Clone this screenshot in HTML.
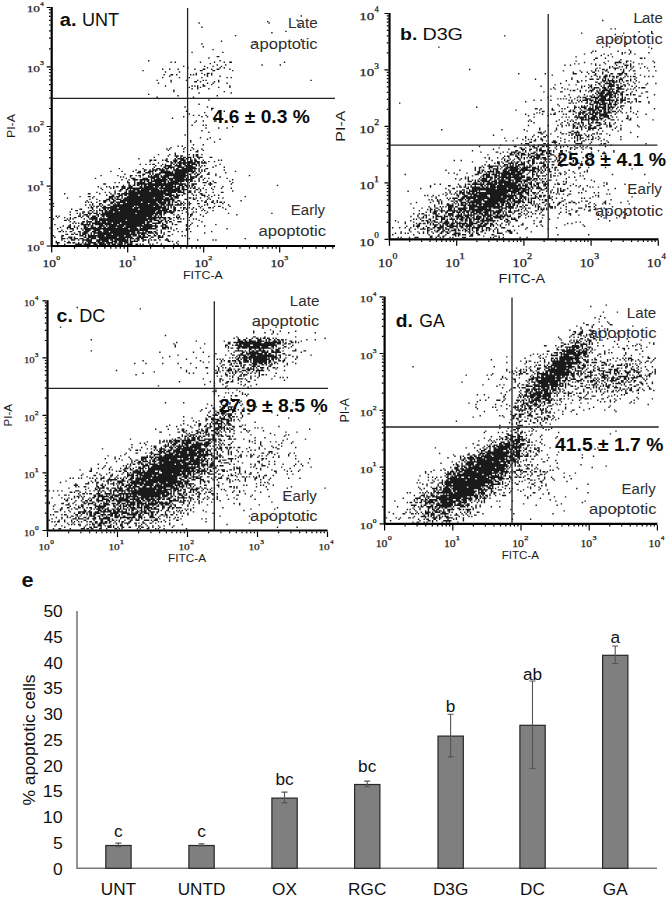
<!DOCTYPE html>
<html><head><meta charset="utf-8"><style>
html,body{margin:0;padding:0;background:#fff;}
body{width:670px;height:900px;overflow:hidden;}
svg{display:block;font-family:"Liberation Sans", sans-serif;}
</style></head><body>
<svg width="670" height="900" viewBox="0 0 670 900">
<path transform="translate(52.80 8.30) scale(1.4)" d="M3 168.5h1m4 0h1m7 0h5m1 0h5m2 0h3m1 0h5m1 0h2m1 0h3m1 0h4m1 0h1m1 0h4m2 0h2m1 0h1m1 0h1m4 0h1m1 0h1m5 0h1m8 0h1m2 0h1M2 167.5h3m5 0h3m1 0h2m2 0h1m2 0h1m1 0h1m1 0h6m1 0h5m1 0h5m1 0h2m1 0h3m1 0h3m1 0h2m11 0h1m5 0h1m13 0h1M2 166.5h1m5 0h1m2 0h1m9 0h1m2 0h4m3 0h3m1 0h5m2 0h4m1 0h7m1 0h6m3 0h1m3 0h1m13 0h2m1 0h1m3 0h1M6 165.5h1m6 0h3m2 0h1m2 0h7m3 0h9m1 0h2m1 0h10m1 0h1m2 0h1m1 0h2m2 0h3m1 0h1m1 0h1m1 0h2m2 0h1m3 0h3m20 0h1m10 0h1m1 0h1M6 164.5h3m1 0h1m1 0h2m1 0h3m1 0h3m2 0h2m1 0h4m2 0h19m1 0h1m1 0h3m1 0h3m1 0h2m4 0h1m5 0h1m5 0h1m15 0h1m39 0h1M1 163.5h1m4 0h1m4 0h3m1 0h1m6 0h2m1 0h6m1 0h14m1 0h10m3 0h8m2 0h2m3 0h4M0 162.5h1m5 0h2m11 0h3m1 0h1m1 0h12m1 0h13m1 0h4m1 0h3m1 0h2m1 0h2m2 0h2m2 0h2m1 0h2m1 0h1m3 0h2m8 0h1m1 0h1M9 161.5h2m2 0h2m1 0h2m1 0h1m1 0h3m1 0h1m1 0h1m1 0h1m2 0h10m1 0h17m1 0h1m1 0h3m1 0h1m4 0h1m1 0h1m4 0h1m5 0h1M15 160.5h1m3 0h1m1 0h4m2 0h1m1 0h26m1 0h3m1 0h7m1 0h4m1 0h2m2 0h1m1 0h1m28 0h1M4 159.5h2m1 0h1m1 0h1m2 0h2m4 0h2m2 0h4m2 0h3m1 0h3m1 0h4m1 0h18m1 0h2m2 0h1m1 0h5m1 0h2m3 0h1m4 0h2m5 0h1m2 0h1m5 0h1m14 0h1M6 158.5h1m7 0h1m6 0h1m1 0h4m2 0h5m2 0h32m6 0h1m2 0h1m8 0h1m8 0h1M3 157.5h1m6 0h1m1 0h3m2 0h1m2 0h1m1 0h32m1 0h6m1 0h12m4 0h3m1 0h1m1 0h1m3 0h1m6 0h1m1 0h1m26 0h1M5 156.5h1m4 0h3m2 0h1m1 0h1m4 0h3m2 0h4m1 0h3m1 0h2m1 0h6m1 0h4m1 0h9m2 0h1m1 0h7m2 0h2m3 0h5m1 0h1M7 155.5h1m3 0h2m2 0h1m2 0h1m3 0h2m1 0h1m1 0h2m4 0h4m1 0h1m1 0h11m1 0h23m2 0h2m1 0h2m13 0h1m1 0h1m5 0h1m4 0h1M1 154.5h1m10 0h1m7 0h7m1 0h1m1 0h6m1 0h9m1 0h17m1 0h6m2 0h1m4 0h3m4 0h1m1 0h2m6 0h1m2 0h1m17 0h1M14 153.5h1m1 0h1m1 0h1m1 0h2m2 0h1m1 0h1m1 0h14m1 0h5m1 0h17m1 0h2m2 0h6m1 0h1m2 0h1m3 0h1m13 0h1M12 152.5h1m2 0h1m5 0h2m1 0h4m2 0h4m1 0h3m1 0h27m1 0h4m4 0h3m2 0h2m1 0h2m4 0h3m14 0h1M8 151.5h2m1 0h1m12 0h1m3 0h1m1 0h2m1 0h19m1 0h15m1 0h2m1 0h4m1 0h2m1 0h1m1 0h1m3 0h1m10 0h1m6 0h1M0 150.5h1m9 0h1m1 0h1m1 0h1m7 0h1m3 0h6m1 0h41m2 0h1m2 0h2m2 0h2m4 0h1m1 0h1m1 0h1m6 0h1m1 0h1M3 149.5h1m4 0h1m3 0h1m2 0h2m3 0h1m4 0h1m1 0h5m2 0h1m1 0h1m2 0h28m1 0h13m1 0h2m2 0h1m1 0h3m6 0h1M2 148.5h1m1 0h1m13 0h2m1 0h1m2 0h2m2 0h3m1 0h1m2 0h2m1 0h33m1 0h2m1 0h1m1 0h1m10 0h1m1 0h1m7 0h1m8 0h1M12 147.5h1m6 0h1m2 0h3m1 0h1m4 0h2m1 0h38m1 0h2m1 0h2m1 0h1m6 0h1m2 0h1m6 0h1m1 0h2m5 0h1m25 0h1M17 146.5h1m1 0h1m1 0h1m3 0h3m1 0h3m1 0h1m1 0h24m1 0h18m1 0h2m3 0h2m6 0h1m3 0h1m2 0h1m9 0h1m15 0h1m30 0h1M12 145.5h1m8 0h2m2 0h1m2 0h1m2 0h1m3 0h1m1 0h6m1 0h29m1 0h4m1 0h8m8 0h1m4 0h1m1 0h1m7 0h1M16 144.5h2m8 0h2m1 0h1m1 0h1m1 0h3m1 0h2m1 0h7m1 0h26m1 0h7m1 0h2m1 0h2m1 0h2m1 0h1m13 0h1m1 0h1m5 0h1M13 143.5h1m5 0h2m7 0h1m4 0h1m2 0h2m1 0h1m1 0h20m1 0h15m1 0h5m3 0h2m5 0h1m1 0h1m3 0h1m2 0h1m4 0h1m15 0h1M25 142.5h1m1 0h2m2 0h1m3 0h11m1 0h10m1 0h23m1 0h1m1 0h1m1 0h2m3 0h1m1 0h2m2 0h1m2 0h1m4 0h1m5 0h2m1 0h1m6 0h1M0 141.5h1m26 0h1m1 0h1m1 0h2m1 0h1m1 0h2m3 0h17m1 0h1m1 0h11m1 0h5m1 0h2m1 0h1m1 0h1m1 0h1m17 0h1m1 0h1m8 0h1m2 0h2m6 0h1M23 140.5h1m2 0h1m1 0h1m4 0h1m1 0h1m3 0h2m2 0h33m1 0h3m1 0h5m1 0h5m1 0h1m3 0h1m10 0h1m1 0h1m14 0h1M0 139.5h1m27 0h1m4 0h2m6 0h2m1 0h1m1 0h2m2 0h18m1 0h6m1 0h5m1 0h2m1 0h1m3 0h1m1 0h2m1 0h1m2 0h2m4 0h2m5 0h1m4 0h1m5 0h1M23 138.5h1m1 0h1m1 0h1m3 0h1m4 0h2m3 0h3m1 0h7m1 0h10m1 0h10m1 0h6m1 0h2m1 0h1m1 0h2m2 0h1m1 0h1m3 0h1m10 0h2m3 0h2m2 0h1m1 0h2m1 0h1M24 137.5h1m8 0h1m2 0h3m1 0h1m2 0h2m3 0h30m1 0h5m1 0h2m2 0h2m12 0h1m2 0h1m2 0h1m4 0h1m2 0h1m16 0h1M26 136.5h1m4 0h1m6 0h3m1 0h2m1 0h4m1 0h37m7 0h2m4 0h2m8 0h1m1 0h1M10 135.5h1m17 0h1m11 0h3m1 0h1m1 0h1m2 0h1m1 0h21m1 0h6m1 0h3m1 0h2m1 0h3m7 0h2m1 0h1m1 0h1m2 0h1m5 0h1m6 0h1m2 0h1M19 134.5h1m5 0h2m2 0h1m10 0h4m1 0h3m1 0h1m3 0h27m3 0h2m1 0h4m18 0h1m1 0h1m2 0h1m23 0h1M38 133.5h1m3 0h2m3 0h3m1 0h2m1 0h7m1 0h17m1 0h7m1 0h3m1 0h1m7 0h1m1 0h1m3 0h3m2 0h1m3 0h1m2 0h1M8 132.5h1m16 0h2m6 0h1m7 0h1m2 0h1m1 0h2m1 0h36m3 0h1m4 0h2m4 0h1m5 0h2M31 131.5h1m5 0h1m2 0h1m3 0h1m6 0h2m1 0h27m1 0h6m1 0h5m2 0h3m2 0h1m2 0h1m4 0h1m4 0h1m5 0h2M44 130.5h1m2 0h2m3 0h1m1 0h5m1 0h9m1 0h22m1 0h1m3 0h2m2 0h1m3 0h1m22 0h1M35 129.5h1m12 0h2m2 0h2m1 0h1m1 0h5m1 0h13m1 0h1m1 0h12m1 0h4m6 0h2m1 0h1m3 0h1m4 0h1M34 128.5h1m6 0h1m1 0h1m5 0h3m1 0h22m1 0h10m1 0h4m1 0h2m2 0h1m1 0h1m1 0h2m2 0h1m2 0h1m5 0h1m6 0h1m6 0h1M32 127.5h1m5 0h1m1 0h1m2 0h1m1 0h2m2 0h3m2 0h3m5 0h2m1 0h7m1 0h3m1 0h2m1 0h8m1 0h2m1 0h2m1 0h1m1 0h1m1 0h1m1 0h1m13 0h1m5 0h1M50 126.5h1m3 0h2m1 0h2m1 0h2m1 0h1m1 0h2m1 0h18m1 0h1m2 0h3m1 0h2m1 0h1m1 0h2m7 0h1m3 0h1m47 0h1M36 125.5h2m16 0h1m3 0h1m1 0h35m1 0h1m2 0h4m8 0h3m13 0h1M44 124.5h1m2 0h1m5 0h2m3 0h1m1 0h6m2 0h3m2 0h5m1 0h2m1 0h8m1 0h1m5 0h1m9 0h3m2 0h1m2 0h2m11 0h1M53 123.5h1m4 0h1m3 0h2m1 0h1m1 0h2m1 0h11m1 0h1m1 0h10m1 0h2m1 0h2m1 0h1m2 0h1m5 0h1m3 0h1m11 0h1M49 122.5h1m4 0h1m2 0h4m1 0h7m1 0h1m1 0h10m1 0h3m1 0h13m4 0h1m2 0h1m20 0h1M30 121.5h1m21 0h1m3 0h3m5 0h4m2 0h3m1 0h3m1 0h3m1 0h12m1 0h2m1 0h3m3 0h1m3 0h1m2 0h1m12 0h1M48 120.5h1m1 0h1m4 0h1m6 0h1m5 0h8m1 0h6m3 0h9m1 0h1m1 0h5m2 0h2m12 0h1M34 119.5h1m11 0h1m8 0h2m2 0h1m1 0h2m1 0h1m3 0h1m1 0h1m1 0h4m1 0h1m1 0h18m1 0h1m3 0h2m2 0h1m9 0h1m23 0h1M51 118.5h1m12 0h2m3 0h1m1 0h1m1 0h4m3 0h15m2 0h2m2 0h1m1 0h2m5 0h2m4 0h1M60 117.5h3m3 0h4m1 0h1m4 0h10m1 0h10m2 0h2m1 0h1m2 0h1m5 0h1m11 0h1M41 116.5h1m7 0h1m7 0h1m3 0h2m2 0h1m2 0h4m1 0h1m3 0h7m1 0h1m1 0h15m2 0h1m1 0h1m1 0h1m21 0h1M59 115.5h1m5 0h2m2 0h1m1 0h4m1 0h4m1 0h1m4 0h14m1 0h1m2 0h1m1 0h1m1 0h1m13 0h1M47 114.5h1m16 0h1m6 0h1m2 0h3m1 0h1m1 0h3m1 0h1m1 0h1m1 0h2m2 0h11m1 0h1m4 0h2M72 113.5h1m6 0h2m1 0h5m2 0h5m1 0h7m3 0h1m8 0h1m7 0h1M73 112.5h1m3 0h1m2 0h5m2 0h5m2 0h6m2 0h1m1 0h1m1 0h1m1 0h1m7 0h1M62 111.5h1m3 0h1m2 0h1m1 0h2m5 0h1m1 0h1m3 0h1m1 0h1m1 0h1m1 0h2m1 0h2m1 0h2m1 0h4m1 0h1m14 0h1M75 110.5h1m8 0h2m1 0h1m1 0h13m1 0h2m1 0h4M69 109.5h1m11 0h2m1 0h1m1 0h3m1 0h2m1 0h2m1 0h4m1 0h4m1 0h1m1 0h1m2 0h1m3 0h1M69 108.5h2m1 0h2m4 0h1m1 0h2m4 0h3m2 0h4m3 0h2m1 0h2m4 0h1m10 0h1m1 0h1M61 107.5h1m19 0h1m5 0h1m1 0h5m1 0h2m1 0h1m2 0h1m2 0h1M72 106.5h1m15 0h1m2 0h1m1 0h2m1 0h3m1 0h1m2 0h4m5 0h2M82 105.5h1m4 0h3m1 0h2m7 0h1m1 0h2M75 104.5h1m7 0h1m3 0h1m9 0h1m2 0h1m1 0h2m2 0h1M87 103.5h1M93 102.5h1m8 0h2M82 101.5h1m15 0h1m4 0h1m3 0h1M81 100.5h1m1 0h1m9 0h1m6 0h1m5 0h1M84 99.5h1m9 0h1m4 0h1M89 98.5h1m2 0h1M100 97.5h1m6 0h1M98 95.5h1m16 0h1M98 94.5h1M110 93.5h1m8 0h1M105 92.5h1m6 0h1M94 90.5h1M111 88.5h1M106 87.5h1M109 85.5h1m8 0h1m5 0h1M128 84.5h1M99 83.5h1m7 0h1m1 0h1M101 81.5h1M102 80.5h1m4 0h1m7 0h2M85 78.5h1M93 77.5h1m12 0h1m3 0h1M100 76.5h1m3 0h1m4 0h1M97 75.5h1M108 74.5h1m9 0h1M95 73.5h1m26 0h1M113 72.5h1M113 71.5h2M94 70.5h1m15 0h1M104 68.5h1M111 65.5h1M75 64.5h1M74 63.5h1m25 0h1M89 62.5h1m27 0h1M68 61.5h1M104 60.5h1m22 0h1M86 59.5h1m35 0h1M86 58.5h1M99 57.5h1m3 0h1m7 0h1M97 56.5h1m5 0h1m1 0h1m12 0h1m7 0h1M80 55.5h1m18 0h1m1 0h1m1 0h1m3 0h2m17 0h1M107 54.5h1m5 0h1M75 53.5h1m34 0h1m3 0h1m9 0h1M84 52.5h1m16 0h2m2 0h1m9 0h1m2 0h1M74 51.5h1m9 0h1m10 0h1m7 0h1m3 0h1m1 0h1m8 0h1m65 0h1M78 49.5h1m11 0h1m6 0h1m8 0h1m17 0h1m2 0h1M83 48.5h1m26 0h1m8 0h1M79 47.5h1m4 0h2m2 0h1m9 0h1m1 0h1m1 0h1m5 0h1m1 0h1m2 0h1M102 46.5h1m3 0h1m3 0h2m1 0h1M80 45.5h1m9 0h1M64 44.5h1m40 0h2m7 0h2m12 0h1M78 43.5h1m4 0h1m5 0h1m11 0h1m5 0h2m4 0h1m3 0h2m7 0h1M96 42.5h1m13 0h1m8 0h1m2 0h1M93 41.5h1m14 0h1m5 0h1m5 0h1M117 40.5h1m5 0h1m25 0h1m12 0h1M112 39.5h1M84 38.5h1m2 0h1m17 0h1m9 0h1m6 0h1m3 0h2m37 0h1M68 37.5h1m50 0h1M111 35.5h1M117 34.5h2M99 31.5h1m21 0h1M114 29.5h1M156 28.5h1M107 27.5h1M106 25.5h1M144 24.5h1M120 23.5h1M177 22.5h1M130 19.5h1M156 17.5h1M166 16.5h1M106 13.5h1M176 12.5h1M104 10.5h1m49 0h1M153 9.5h1M174 8.5h1M177 5.5h1" stroke="#1a1a1a" stroke-width="1" fill="none"/>
<path transform="translate(390.60 14.20) scale(1.4)" d="M5 159.5h1m1 0h1m5 0h1m3 0h3m8 0h2m2 0h1m2 0h1m1 0h1m4 0h1m1 0h1m6 0h3m17 0h1m1 0h1m3 0h1m2 0h1m11 0h1m4 0h1M28 158.5h2m3 0h2m2 0h2m7 0h1m1 0h1m7 0h3m7 0h1m7 0h2m1 0h1M1 157.5h1m14 0h1m10 0h1m6 0h1m4 0h1m4 0h3m1 0h2m1 0h3m3 0h2m3 0h2m8 0h2m6 0h1m38 0h1m21 0h1M3 156.5h1m3 0h1m2 0h1m1 0h1m7 0h1m2 0h1m2 0h1m3 0h1m4 0h2m3 0h2m3 0h5m6 0h1m1 0h1m2 0h2m4 0h1m8 0h4m5 0h2m3 0h1M7 155.5h1m6 0h1m4 0h1m3 0h1m2 0h1m2 0h1m2 0h2m2 0h2m1 0h2m1 0h1m3 0h1m6 0h1m1 0h2m2 0h1m1 0h1m2 0h2m7 0h1m2 0h1m5 0h1m1 0h3m13 0h1M13 154.5h1m12 0h2m3 0h1m1 0h2m2 0h2m2 0h1m1 0h4m1 0h2m1 0h1m1 0h2m1 0h1m1 0h1m2 0h2m2 0h2m1 0h1m1 0h1m2 0h1m2 0h1m6 0h3m2 0h1M13 153.5h1m3 0h1m3 0h4m1 0h1m1 0h2m4 0h2m1 0h1m1 0h3m3 0h2m1 0h1m3 0h2m1 0h2m1 0h1m2 0h2m2 0h1m2 0h1m1 0h2m2 0h1m1 0h1m19 0h1m15 0h1M1 152.5h1m4 0h1m3 0h1m3 0h1m4 0h1m3 0h1m2 0h2m2 0h2m1 0h5m1 0h1m2 0h3m2 0h1m2 0h2m2 0h1m1 0h1m1 0h6m1 0h1m2 0h3m4 0h1m3 0h3m15 0h1m20 0h1M11 151.5h1m4 0h1m1 0h3m4 0h1m5 0h2m2 0h3m2 0h8m1 0h3m1 0h5m1 0h1m2 0h6m3 0h1m1 0h1m4 0h1m8 0h1m3 0h1m12 0h1m3 0h1m29 0h1M16 150.5h1m2 0h2m7 0h1m1 0h4m1 0h1m1 0h1m1 0h2m1 0h3m2 0h1m1 0h1m1 0h2m1 0h5m3 0h3m1 0h3m2 0h3m2 0h1m1 0h1m3 0h1m1 0h1m8 0h2m12 0h1m16 0h1m12 0h1M10 149.5h1m7 0h1m1 0h2m1 0h2m1 0h1m1 0h1m1 0h1m3 0h1m2 0h5m1 0h3m1 0h8m1 0h6m2 0h2m1 0h3m1 0h2m2 0h1m3 0h1m4 0h1m9 0h1m7 0h1m23 0h1m2 0h1M5 148.5h1m4 0h1m5 0h1m9 0h2m1 0h1m1 0h3m1 0h2m1 0h4m2 0h1m1 0h2m1 0h1m3 0h1m2 0h3m2 0h3m1 0h2m2 0h1m3 0h1m8 0h2m1 0h1m20 0h2m24 0h1m2 0h1M3 147.5h1m10 0h1m7 0h2m1 0h2m1 0h1m1 0h2m4 0h1m2 0h2m3 0h1m1 0h1m3 0h2m1 0h2m1 0h2m1 0h1m2 0h1m1 0h11m1 0h1m4 0h1m1 0h2m4 0h2m11 0h1m4 0h1m48 0h1M16 146.5h1m1 0h1m2 0h1m5 0h2m3 0h2m2 0h3m1 0h1m1 0h4m1 0h1m1 0h3m1 0h2m1 0h2m1 0h5m1 0h2m1 0h5m5 0h2m2 0h2m2 0h4m23 0h1m34 0h1M20 145.5h1m1 0h2m1 0h1m4 0h1m1 0h1m3 0h3m4 0h1m3 0h2m1 0h3m1 0h3m1 0h2m1 0h4m1 0h1m1 0h2m1 0h2m1 0h5m1 0h1m5 0h1m1 0h1m2 0h1m4 0h1m7 0h1m3 0h1m10 0h1m32 0h1m8 0h1m4 0h1M14 144.5h1m4 0h1m3 0h1m1 0h1m4 0h1m1 0h5m1 0h3m1 0h1m1 0h1m1 0h6m1 0h3m1 0h1m1 0h1m1 0h4m1 0h2m1 0h3m1 0h9m1 0h3m5 0h2m5 0h1m1 0h1m49 0h1m12 0h1M19 143.5h1m4 0h2m1 0h1m4 0h2m4 0h1m2 0h4m2 0h4m1 0h8m2 0h1m2 0h8m2 0h2m1 0h2m1 0h3m1 0h1m7 0h1m2 0h1m11 0h2m18 0h1m5 0h1m13 0h1m5 0h1M16 142.5h1m3 0h1m1 0h2m6 0h3m1 0h1m4 0h1m1 0h4m3 0h1m1 0h1m1 0h1m2 0h1m1 0h1m1 0h3m1 0h3m1 0h3m1 0h1m1 0h2m1 0h2m2 0h1m1 0h1m4 0h1m3 0h2m2 0h1m1 0h1m3 0h1m1 0h1m2 0h1m13 0h1m6 0h2m19 0h1m8 0h1m10 0h1M25 141.5h1m2 0h1m1 0h3m3 0h1m2 0h2m3 0h2m1 0h3m1 0h2m1 0h2m1 0h3m1 0h4m1 0h4m1 0h1m1 0h6m1 0h1m1 0h1m1 0h3m1 0h1m4 0h1m4 0h1m1 0h1m6 0h1m13 0h1m3 0h1m6 0h1m22 0h1m10 0h1M20 140.5h1m7 0h1m2 0h3m1 0h4m1 0h8m1 0h2m1 0h5m1 0h8m1 0h7m1 0h5m1 0h1m2 0h2m2 0h4m3 0h1m1 0h1m5 0h2m3 0h1m18 0h1m4 0h2m7 0h2M26 139.5h1m1 0h2m1 0h1m2 0h1m1 0h1m4 0h3m1 0h1m2 0h6m2 0h16m5 0h3m2 0h1m2 0h1m5 0h1m1 0h1m2 0h1m8 0h1m1 0h3m1 0h1m13 0h1m3 0h1m8 0h1m3 0h1m2 0h2m6 0h1M16 138.5h1m5 0h1m5 0h1m3 0h2m2 0h1m4 0h3m1 0h1m2 0h7m1 0h4m2 0h7m1 0h2m1 0h5m1 0h4m1 0h4m1 0h1m4 0h1m1 0h1m1 0h2m5 0h1m1 0h1m1 0h1m1 0h1m2 0h2m1 0h1m3 0h1m12 0h3m9 0h1m3 0h1m1 0h1M27 137.5h1m3 0h1m3 0h1m1 0h1m1 0h1m1 0h4m1 0h2m4 0h2m2 0h24m2 0h6m2 0h1m1 0h2m1 0h1m7 0h1m1 0h2m6 0h3m1 0h1m7 0h1m13 0h1m1 0h2m2 0h1m12 0h1M31 136.5h1m8 0h5m3 0h1m1 0h4m1 0h7m1 0h2m1 0h9m1 0h2m1 0h2m1 0h1m1 0h2m1 0h2m1 0h1m3 0h1m1 0h2m3 0h1m1 0h1m1 0h1m4 0h1m2 0h1m5 0h1m3 0h1m15 0h1m6 0h1M14 135.5h1m19 0h1m1 0h1m3 0h2m2 0h1m1 0h1m1 0h1m1 0h2m1 0h2m1 0h1m1 0h2m1 0h17m1 0h2m1 0h4m1 0h2m2 0h1m8 0h1m1 0h1m1 0h1m1 0h1m4 0h1m1 0h1m5 0h2m4 0h1m6 0h1m8 0h1m3 0h1m5 0h1m1 0h1m2 0h1m13 0h1M18 134.5h1m9 0h1m5 0h1m1 0h1m8 0h1m1 0h1m2 0h4m1 0h10m2 0h10m1 0h4m1 0h2m1 0h1m1 0h5m1 0h2m2 0h3m1 0h1m5 0h2m6 0h1m3 0h2m5 0h2m1 0h2m2 0h1m7 0h1m9 0h2m10 0h1M30 133.5h1m2 0h2m1 0h1m6 0h2m1 0h2m1 0h2m3 0h2m1 0h8m1 0h18m1 0h1m1 0h8m3 0h1m1 0h1m1 0h1m7 0h2m10 0h2m5 0h1m6 0h1m2 0h2m12 0h1m15 0h1M27 132.5h1m1 0h1m3 0h1m1 0h1m5 0h1m3 0h1m2 0h4m1 0h1m1 0h2m2 0h8m2 0h13m1 0h3m1 0h2m2 0h2m1 0h1m1 0h1m1 0h1m1 0h1m5 0h1m1 0h1m1 0h2m3 0h1m8 0h1m32 0h1M32 131.5h1m7 0h1m1 0h1m1 0h4m2 0h3m1 0h7m1 0h21m1 0h4m1 0h2m1 0h2m1 0h2m1 0h1m1 0h4m1 0h1m7 0h2m3 0h1m3 0h1m13 0h1m1 0h1m3 0h1M29 130.5h1m2 0h1m15 0h1m2 0h19m1 0h8m1 0h8m1 0h1m2 0h5m6 0h2m1 0h2m1 0h1m2 0h2m1 0h1m28 0h1m3 0h1m23 0h1M24 129.5h1m1 0h1m3 0h1m3 0h1m4 0h1m7 0h2m3 0h3m2 0h1m1 0h10m2 0h19m2 0h3m3 0h1m1 0h1m2 0h1m2 0h2m1 0h2m2 0h1m12 0h1m19 0h1m1 0h1M37 128.5h1m2 0h1m2 0h1m1 0h1m1 0h1m1 0h1m1 0h2m2 0h7m1 0h20m1 0h1m1 0h1m1 0h1m1 0h4m3 0h2m3 0h1m1 0h1m13 0h1m1 0h1m2 0h1m3 0h2m25 0h1m1 0h1M39 127.5h1m2 0h1m3 0h1m2 0h4m1 0h3m1 0h2m1 0h23m2 0h4m1 0h4m1 0h3m2 0h3m1 0h1m2 0h1m5 0h1m1 0h1m2 0h1m14 0h1m1 0h1m8 0h1m2 0h1m21 0h1m3 0h1M12 126.5h1m29 0h1m4 0h1m1 0h2m1 0h1m1 0h1m1 0h6m1 0h1m4 0h24m1 0h4m1 0h1m1 0h1m5 0h1m4 0h1m2 0h1m4 0h1m1 0h3m4 0h1m10 0h1M41 125.5h1m9 0h2m3 0h1m1 0h28m1 0h6m1 0h5m1 0h1m6 0h3m2 0h1m2 0h1m3 0h1m1 0h1m1 0h2m12 0h1m17 0h1M21 124.5h1m17 0h1m4 0h2m8 0h2m2 0h17m1 0h7m1 0h13m1 0h2m1 0h1m2 0h4m2 0h2m7 0h1m1 0h1m4 0h1m10 0h1m22 0h1M28 123.5h1m18 0h1m1 0h2m1 0h2m1 0h1m1 0h7m1 0h2m1 0h2m1 0h20m1 0h2m2 0h3m1 0h2m2 0h3m4 0h1m4 0h1m17 0h1m7 0h1m1 0h1m3 0h1M28 122.5h1m12 0h2m6 0h1m3 0h1m3 0h1m2 0h1m3 0h2m1 0h1m1 0h1m1 0h4m1 0h17m1 0h4m2 0h1m1 0h2m1 0h1m3 0h2m1 0h1m15 0h1m3 0h1m2 0h1m4 0h1m11 0h1M31 121.5h1m3 0h1m12 0h1m4 0h1m1 0h2m1 0h9m1 0h8m1 0h3m1 0h9m1 0h2m1 0h1m1 0h2m1 0h2m1 0h1m1 0h2m3 0h4m4 0h1m1 0h2m2 0h2m5 0h1m23 0h1m12 0h1M59 120.5h3m2 0h1m1 0h1m2 0h4m1 0h17m2 0h1m1 0h1m2 0h3m3 0h3m1 0h1m1 0h1m1 0h1m6 0h1m5 0h1m26 0h1m1 0h1m29 0h1M55 119.5h3m2 0h1m1 0h2m1 0h6m1 0h4m1 0h9m1 0h1m1 0h5m1 0h3m2 0h1m2 0h1m4 0h2m1 0h1m11 0h1m1 0h1m19 0h1M49 118.5h1m5 0h1m2 0h1m1 0h1m1 0h1m1 0h5m1 0h2m2 0h2m1 0h5m2 0h4m1 0h4m1 0h6m1 0h2m1 0h1m2 0h1m4 0h3m3 0h1m13 0h1m10 0h1M46 117.5h1m3 0h1m2 0h1m1 0h1m7 0h1m1 0h4m2 0h2m1 0h1m1 0h2m1 0h2m1 0h4m2 0h6m3 0h4m1 0h3m1 0h1m1 0h1m1 0h1m14 0h1m12 0h1M53 116.5h1m1 0h1m8 0h1m1 0h1m1 0h5m1 0h2m1 0h19m1 0h3m1 0h1m3 0h1m8 0h1m12 0h1m3 0h1M58 115.5h1m6 0h2m1 0h3m3 0h4m1 0h4m1 0h2m1 0h5m1 0h3m5 0h1m2 0h3m1 0h3m3 0h1m1 0h2m1 0h1m15 0h1m1 0h1M10 114.5h1m36 0h1m12 0h3m3 0h5m1 0h4m1 0h1m1 0h15m3 0h1m3 0h2m1 0h1m6 0h1m2 0h1m6 0h1m2 0h1m33 0h1m22 0h1M41 113.5h1m3 0h1m8 0h1m7 0h3m3 0h1m1 0h1m2 0h1m1 0h14m1 0h5m3 0h1m2 0h1m2 0h1m2 0h2m8 0h1m2 0h2m3 0h1m5 0h1m3 0h1M62 112.5h2m1 0h1m1 0h1m1 0h5m1 0h3m2 0h5m1 0h7m1 0h2m3 0h1m1 0h3m1 0h1m1 0h1m1 0h1m3 0h2m9 0h1m5 0h1m7 0h1m1 0h1M39 111.5h1m9 0h1m10 0h1m2 0h1m1 0h2m4 0h1m1 0h1m1 0h2m3 0h3m1 0h7m1 0h11m2 0h2m1 0h1m1 0h1m1 0h2m3 0h1m1 0h1m7 0h1m12 0h1M60 110.5h1m2 0h1m6 0h1m2 0h4m1 0h1m2 0h3m1 0h7m1 0h5m3 0h5m1 0h1m2 0h1m2 0h1m3 0h1m16 0h1m37 0h1M60 109.5h1m2 0h2m1 0h1m3 0h3m3 0h1m2 0h1m2 0h9m1 0h1m1 0h6m1 0h3m1 0h1m1 0h1m1 0h1m1 0h2m2 0h1m1 0h2m15 0h2m5 0h1m11 0h1M65 108.5h1m3 0h8m1 0h1m1 0h2m1 0h1m1 0h3m1 0h3m3 0h1m1 0h1m1 0h2m4 0h1m2 0h3m1 0h1m8 0h2M67 107.5h1m2 0h1m6 0h1m3 0h3m1 0h1m1 0h1m1 0h1m1 0h5m3 0h1m1 0h1m7 0h2m1 0h1m2 0h2m3 0h2m4 0h1M74 106.5h1m1 0h2m2 0h1m3 0h4m1 0h2m2 0h3m2 0h1m2 0h2m1 0h1m1 0h4m24 0h1m6 0h1m20 0h1M58 105.5h1m9 0h1m7 0h2m1 0h1m2 0h2m2 0h1m1 0h1m1 0h2m1 0h1m1 0h1m1 0h2m2 0h2m4 0h1m1 0h1m1 0h1m1 0h1m1 0h2m2 0h1m10 0h1m5 0h1M45 104.5h1m4 0h1m21 0h1m8 0h1m1 0h2m2 0h1m4 0h1m5 0h2m1 0h2m7 0h1m6 0h1m1 0h2m3 0h1m5 0h1M70 103.5h1m8 0h1m1 0h1m3 0h1m2 0h1m2 0h2m2 0h1m5 0h2m1 0h2m1 0h1m1 0h3m1 0h2m3 0h1m1 0h1M67 102.5h1m2 0h1m5 0h1m3 0h1m3 0h1m5 0h2m1 0h1m1 0h1m1 0h1m1 0h2m1 0h5m1 0h3m7 0h1m1 0h2m15 0h1m15 0h1M81 101.5h1m1 0h2m4 0h2m2 0h1m4 0h1m1 0h3m1 0h3m5 0h2m3 0h1m21 0h1m2 0h1m7 0h1m13 0h1M69 100.5h1m15 0h3m1 0h1m1 0h1m1 0h4m1 0h2m3 0h7m4 0h3M78 99.5h1m6 0h2m1 0h1m1 0h2m1 0h3m2 0h1m1 0h3m1 0h1m2 0h2m2 0h4m5 0h1m1 0h1m6 0h1m2 0h1m18 0h3M64 98.5h1m10 0h2m3 0h1m2 0h1m2 0h4m1 0h2m3 0h1m5 0h2m4 0h2m1 0h1m1 0h1m2 0h1m4 0h2m4 0h2m7 0h1m6 0h1m8 0h1m6 0h1M58 97.5h1m30 0h2m3 0h1m1 0h1m2 0h1m4 0h1m1 0h5m1 0h3m1 0h1m4 0h2m2 0h1m22 0h1m10 0h1M73 96.5h1m10 0h1m8 0h3m3 0h2m3 0h1m1 0h2m4 0h1m5 0h1m9 0h1m2 0h1m5 0h1m5 0h1M77 95.5h1m14 0h2m2 0h1m5 0h3m2 0h1m5 0h1m3 0h1m3 0h1m6 0h2m2 0h2m2 0h1m2 0h1m2 0h2M63 94.5h1m24 0h2m9 0h1m1 0h2m2 0h1m2 0h2m1 0h2m5 0h1m2 0h1m1 0h1m2 0h1m4 0h1m3 0h1m1 0h1m2 0h1m12 0h1M78 93.5h1m16 0h1m2 0h1m3 0h1m2 0h4m2 0h4m3 0h1m6 0h1m23 0h1m7 0h1M93 92.5h1m2 0h3m10 0h2m1 0h1m4 0h1m2 0h1m11 0h5m5 0h1m7 0h1m1 0h2m28 0h1M99 91.5h2m14 0h4m5 0h1m6 0h1m4 0h1m6 0h1m11 0h1M82 90.5h1m4 0h1m8 0h1m5 0h2m4 0h1m2 0h1m4 0h2m3 0h1m5 0h1m3 0h1m1 0h1m3 0h2m11 0h1m3 0h1M94 89.5h1m3 0h1m1 0h1m2 0h1m3 0h2m15 0h1m8 0h1m1 0h1m3 0h1m1 0h1m1 0h2m3 0h1m3 0h1m11 0h1M81 88.5h1m8 0h1m5 0h1m10 0h1m13 0h1m7 0h1m1 0h1m1 0h1m1 0h3m6 0h1m1 0h1m2 0h1M96 87.5h1m4 0h1m3 0h1m3 0h2m1 0h1m6 0h1m11 0h1m1 0h1m1 0h1m4 0h2m2 0h1m3 0h1m15 0h1m11 0h1M73 86.5h1m28 0h1m8 0h1m15 0h1m1 0h1m2 0h5m2 0h1m1 0h1m1 0h1m12 0h1M107 85.5h2m5 0h1m7 0h2m1 0h1m3 0h2m1 0h1m1 0h1m3 0h1m5 0h2m1 0h1m1 0h2m3 0h1M105 84.5h3m1 0h1m11 0h1m5 0h2m2 0h4m12 0h1m23 0h1M97 83.5h1m12 0h1m6 0h1m11 0h2m2 0h1m6 0h1m10 0h1m10 0h1M36 82.5h1m42 0h1m15 0h1m10 0h1m11 0h1m17 0h1m4 0h2m1 0h1m3 0h1m9 0h1m5 0h1M106 81.5h1m11 0h1m11 0h1m1 0h2m2 0h1m2 0h1m1 0h6m2 0h2m9 0h1m3 0h1M122 80.5h1m7 0h2m1 0h1m1 0h2m1 0h1m2 0h2m2 0h2m7 0h1m1 0h2m3 0h1m15 0h1M98 79.5h1m13 0h1m6 0h1m2 0h1m2 0h1m1 0h1m2 0h2m3 0h1m1 0h1m1 0h1m2 0h2m3 0h3m4 0h1m1 0h2m6 0h1m11 0h1M121 78.5h1m5 0h1m2 0h1m2 0h2m2 0h1m3 0h2m6 0h2m1 0h2m2 0h1m2 0h1M102 77.5h1m19 0h1m3 0h1m4 0h2m1 0h1m1 0h2m3 0h1m1 0h2m1 0h4m3 0h1m2 0h1m3 0h1M98 76.5h1m1 0h1m17 0h1m5 0h1m3 0h1m1 0h1m5 0h1m4 0h1m2 0h1m2 0h1m4 0h1m12 0h1M99 75.5h1m20 0h1m5 0h1m2 0h1m2 0h1m3 0h6m1 0h6m1 0h1m2 0h1m3 0h3m2 0h1m7 0h2m15 0h1M133 74.5h1m1 0h3m1 0h1m1 0h5m1 0h1m1 0h3m3 0h2m11 0h2m1 0h1M102 73.5h1m19 0h1m2 0h1m1 0h1m3 0h9m1 0h1m1 0h5m1 0h1m2 0h4m2 0h1m2 0h1m7 0h1m6 0h1M98 72.5h1m13 0h1m19 0h1m1 0h1m3 0h2m1 0h1m2 0h3m2 0h7m1 0h1m11 0h1M96 71.5h1m5 0h1m5 0h1m5 0h1m1 0h2m5 0h1m1 0h1m4 0h1m3 0h2m1 0h1m1 0h2m1 0h3m1 0h2m1 0h6m5 0h1m14 0h1m6 0h1M104 70.5h1m1 0h1m10 0h1m14 0h1m1 0h5m2 0h2m1 0h6m2 0h6m3 0h1m3 0h1m2 0h1m4 0h1M108 69.5h2m10 0h1m1 0h1m4 0h2m1 0h2m3 0h1m1 0h3m2 0h1m1 0h2m1 0h1m1 0h2m1 0h2m1 0h2m1 0h3m1 0h1m1 0h1m6 0h1m4 0h1M89 68.5h1m16 0h1m8 0h2m11 0h1m1 0h1m5 0h1m3 0h7m1 0h3m1 0h2m1 0h1m1 0h1m5 0h1M103 67.5h2m2 0h1m7 0h1m6 0h1m1 0h1m6 0h1m3 0h1m2 0h2m1 0h4m1 0h3m2 0h3m1 0h2m1 0h1m2 0h1m3 0h1m5 0h1m16 0h1M61 66.5h1m64 0h1m4 0h2m1 0h1m1 0h4m2 0h1m1 0h1m1 0h8m1 0h5m2 0h1m1 0h1m6 0h1M120 65.5h1m10 0h1m4 0h1m1 0h1m1 0h1m3 0h1m1 0h2m1 0h1m2 0h2m1 0h1m1 0h1m2 0h1m3 0h3M119 64.5h1m22 0h3m2 0h1m1 0h5m1 0h3m1 0h3M6 63.5h1m120 0h2m1 0h1m1 0h1m6 0h2m1 0h1m2 0h5m1 0h4m1 0h2m2 0h1m1 0h1m1 0h1m2 0h1m3 0h1m12 0h1M96 62.5h1m32 0h1m4 0h1m1 0h1m3 0h1m2 0h1m1 0h4m1 0h3m3 0h1m1 0h1m1 0h2m2 0h2m3 0h2m1 0h1m2 0h1m1 0h2m5 0h1M102 61.5h1m4 0h1m6 0h1m12 0h1m1 0h1m3 0h1m1 0h1m1 0h4m1 0h3m1 0h1m1 0h12m1 0h2m1 0h4m7 0h1M119 60.5h1m1 0h1m1 0h1m1 0h1m5 0h1m7 0h4m3 0h2m1 0h5m1 0h2m4 0h1m2 0h2m1 0h1m1 0h2m3 0h2M112 59.5h1m15 0h1m4 0h1m1 0h1m1 0h3m3 0h6m1 0h4m2 0h3m1 0h1m1 0h1m2 0h1m1 0h1m15 0h1M114 58.5h1m9 0h1m9 0h1m5 0h1m1 0h2m1 0h1m2 0h7m1 0h2m1 0h2m4 0h1m11 0h2M127 57.5h1m10 0h1m5 0h1m2 0h1m1 0h3m1 0h6m1 0h1m1 0h1m1 0h2m2 0h2m1 0h1m1 0h2m13 0h1M146 56.5h1m1 0h5m1 0h4m1 0h3m2 0h2m5 0h1m7 0h1M109 55.5h1m11 0h2m12 0h1m5 0h1m1 0h1m3 0h2m1 0h3m2 0h5m1 0h3m1 0h2m5 0h1m9 0h2M128 54.5h1m1 0h2m3 0h1m3 0h1m2 0h3m2 0h1m1 0h1m1 0h6m1 0h1m2 0h2m5 0h1m6 0h1M114 53.5h1m2 0h1m6 0h1m1 0h1m6 0h1m10 0h2m3 0h1m2 0h3m1 0h4m2 0h5m2 0h1m1 0h1m1 0h1M116 52.5h1m5 0h1m13 0h1m4 0h1m1 0h1m1 0h4m2 0h3m1 0h1m1 0h1m3 0h4m9 0h1m2 0h1m1 0h3M107 51.5h1m28 0h1m1 0h1m3 0h2m6 0h1m1 0h1m2 0h5m2 0h1m1 0h2m1 0h1m4 0h1m2 0h1M117 50.5h1m9 0h1m4 0h1m8 0h1m1 0h1m2 0h1m2 0h1m2 0h1m3 0h4m1 0h2m3 0h2m2 0h1m11 0h1M121 49.5h1m26 0h2m3 0h5m1 0h1m4 0h1m4 0h1m4 0h1m8 0h1m5 0h1M133 48.5h2m11 0h2m2 0h1m1 0h1m1 0h1m1 0h1m1 0h4m1 0h1m2 0h1m6 0h1m3 0h1M125 47.5h1m7 0h1m2 0h1m2 0h1m11 0h3m1 0h5m1 0h1m1 0h1m1 0h1m2 0h2m1 0h1m3 0h1M103 46.5h1m25 0h1m12 0h3m2 0h2m2 0h1m1 0h1m1 0h1m2 0h1m4 0h3m5 0h1m2 0h1M129 45.5h1m19 0h1m2 0h2m5 0h1m1 0h1m2 0h1m1 0h1m8 0h1M139 44.5h1m3 0h1m3 0h1m1 0h1m2 0h3m1 0h1m1 0h2m1 0h2m4 0h1m1 0h1m1 0h1m1 0h2m6 0h1m2 0h1m2 0h1M115 43.5h1m29 0h2m6 0h2m1 0h1m6 0h2m3 0h1m9 0h1M91 42.5h1m18 0h1m19 0h3m8 0h1m4 0h1m4 0h1m5 0h2m3 0h4m1 0h2m5 0h1M130 41.5h1m5 0h1m3 0h1m3 0h2m5 0h1m3 0h1m9 0h2M123 40.5h1m11 0h1m7 0h1m2 0h1m1 0h1m4 0h2m11 0h1m3 0h1m2 0h2m9 0h1m4 0h1M56 39.5h1m89 0h1m4 0h2m1 0h1m5 0h1m3 0h1m1 0h1m4 0h1M147 38.5h1m1 0h1m6 0h1m2 0h4m5 0h1m3 0h1m5 0h1m4 0h1M156 37.5h1m1 0h1m4 0h1m1 0h1m2 0h1m2 0h1m1 0h1m7 0h1m6 0h1M124 36.5h1m3 0h1m17 0h1m2 0h1m11 0h1m5 0h3m1 0h1M131 35.5h1m2 0h1m8 0h1m2 0h1m6 0h1m6 0h1m5 0h1m4 0h1m5 0h1m1 0h1M138 34.5h1m13 0h1m7 0h5m3 0h1m4 0h1m14 0h1M132 33.5h1m22 0h1m7 0h1m4 0h2m1 0h1m15 0h1M145 32.5h1m18 0h1M146 31.5h2m5 0h1m24 0h2m1 0h1M132 30.5h1m25 0h1M150 29.5h1m4 0h1M138 28.5h1m13 0h1m4 0h1m7 0h1m4 0h1m3 0h1M143 27.5h1m21 0h1m1 0h1m3 0h1m12 0h1M144 26.5h1m1 0h1m15 0h1m8 0h1M170 25.5h1M186 24.5h1M34 23.5h1m116 0h1m4 0h1m27 0h1M168 21.5h1M174 20.5h1M158 18.5h1m2 0h1M162 17.5h1M174 16.5h1M81 15.5h1m83 0h1M160 14.5h1M136 13.5h1m29 0h1m19 0h1M177 12.5h1m8 0h1M157 10.5h1m2 0h1M174 5.5h1m4 0h1M151 4.5h1" stroke="#1a1a1a" stroke-width="1" fill="none"/>
<path transform="translate(48.60 302.60) scale(1.4)" d="M3 161.5h1m3 0h2m6 0h1m7 0h3m1 0h2m1 0h2m4 0h2m3 0h1m5 0h2m1 0h1m1 0h1m10 0h1m1 0h1m4 0h2m4 0h1m1 0h1m3 0h1m15 0h1M11 160.5h1m13 0h1m3 0h2m1 0h3m2 0h1m4 0h3m1 0h1m2 0h1m2 0h2m3 0h2m5 0h1m1 0h2m3 0h1m2 0h1m4 0h1m8 0h1m74 0h1m13 0h1M4 159.5h1m4 0h1m12 0h1m3 0h1m5 0h1m2 0h3m2 0h1m1 0h3m1 0h1m4 0h2m9 0h1m1 0h2m4 0h1m3 0h1m3 0h1m3 0h1m6 0h1M5 158.5h1m8 0h1m1 0h1m1 0h1m2 0h2m4 0h1m1 0h1m1 0h2m2 0h3m1 0h1m4 0h1m3 0h1m2 0h2m3 0h1m5 0h1m3 0h1m2 0h1m16 0h1m8 0h1m31 0h1M13 157.5h1m3 0h1m13 0h1m1 0h2m1 0h6m1 0h1m2 0h1m1 0h1m3 0h1m1 0h4m3 0h2m1 0h1m2 0h2m3 0h2m2 0h1m9 0h1m56 0h1M2 156.5h1m1 0h1m1 0h2m3 0h1m4 0h1m1 0h1m2 0h1m1 0h1m3 0h1m1 0h2m2 0h2m2 0h2m1 0h2m1 0h2m2 0h1m2 0h1m1 0h2m3 0h2m8 0h1m6 0h1m3 0h1m1 0h1m2 0h1m28 0h1M0 155.5h1m6 0h1m3 0h1m4 0h1m3 0h1m4 0h2m5 0h1m4 0h2m3 0h2m1 0h2m1 0h1m1 0h1m3 0h1m3 0h2m2 0h3m3 0h4m1 0h1m1 0h3m4 0h1m3 0h1m4 0h2m87 0h1M2 154.5h1m6 0h1m7 0h3m1 0h4m2 0h2m2 0h3m2 0h8m1 0h1m5 0h1m4 0h2m1 0h1m2 0h1m1 0h1m1 0h1m9 0h2m1 0h1m9 0h1m4 0h1m14 0h1m2 0h1M5 153.5h1m3 0h1m3 0h1m1 0h1m3 0h1m1 0h1m3 0h2m1 0h1m3 0h2m2 0h1m2 0h5m3 0h3m1 0h11m2 0h3m1 0h1m3 0h4m2 0h1m5 0h1m1 0h1m3 0h1m1 0h1M13 152.5h1m2 0h2m2 0h1m1 0h1m6 0h4m2 0h2m1 0h1m2 0h1m2 0h2m1 0h4m2 0h2m5 0h2m2 0h3m5 0h3m4 0h1m2 0h1m1 0h1m10 0h1m26 0h1m20 0h1m13 0h1M1 151.5h1m1 0h1m5 0h1m1 0h2m6 0h2m2 0h1m3 0h1m1 0h2m1 0h2m3 0h4m1 0h4m1 0h2m1 0h1m1 0h1m3 0h7m1 0h2m1 0h1m3 0h1m1 0h2m1 0h1m3 0h2m1 0h2m2 0h2m2 0h1m7 0h1m85 0h1M18 150.5h1m2 0h2m1 0h2m1 0h1m1 0h2m1 0h5m2 0h1m4 0h6m2 0h6m1 0h5m1 0h2m1 0h4m1 0h2m2 0h1m5 0h1m5 0h1m4 0h1m1 0h1m2 0h1m17 0h1M4 149.5h3m4 0h1m3 0h1m5 0h6m1 0h3m2 0h3m1 0h8m1 0h10m3 0h1m2 0h3m1 0h4m2 0h4m1 0h2m4 0h1m2 0h1m2 0h1m2 0h1m1 0h1m8 0h1m8 0h1M8 148.5h1m5 0h1m10 0h2m2 0h1m5 0h3m1 0h2m1 0h3m1 0h2m1 0h2m1 0h1m2 0h1m1 0h1m1 0h2m2 0h1m1 0h2m1 0h2m1 0h2m5 0h1m1 0h1m3 0h2m5 0h1m1 0h1m1 0h1m2 0h1m2 0h1m8 0h1m28 0h1M3 147.5h1m4 0h2m6 0h1m2 0h2m4 0h1m4 0h1m1 0h1m1 0h3m1 0h1m1 0h3m2 0h2m1 0h4m1 0h3m1 0h1m1 0h4m3 0h1m1 0h1m1 0h2m1 0h6m2 0h1m3 0h1m2 0h1m8 0h1m1 0h1m1 0h1m42 0h1m16 0h1M9 146.5h1m3 0h2m3 0h1m2 0h2m1 0h1m2 0h1m1 0h2m2 0h1m1 0h5m2 0h1m4 0h1m1 0h1m1 0h1m1 0h1m2 0h1m1 0h4m1 0h4m1 0h6m1 0h2m4 0h2m2 0h2m1 0h2m1 0h4m8 0h1m20 0h1m38 0h1M3 145.5h1m11 0h1m5 0h1m1 0h2m8 0h8m5 0h2m2 0h2m1 0h3m1 0h2m1 0h1m2 0h2m1 0h1m1 0h4m2 0h1m2 0h2m2 0h2m3 0h2m2 0h1m8 0h1M4 144.5h1m7 0h3m4 0h1m3 0h2m3 0h1m3 0h2m2 0h1m2 0h5m2 0h1m1 0h2m1 0h1m1 0h1m1 0h7m1 0h2m1 0h2m1 0h8m1 0h1m1 0h2m1 0h3m1 0h1m1 0h2m4 0h1m3 0h1m3 0h1m9 0h1m22 0h1m13 0h1M0 143.5h1m8 0h2m3 0h1m2 0h1m7 0h2m1 0h4m1 0h1m3 0h1m1 0h4m2 0h3m1 0h2m1 0h3m1 0h1m1 0h4m1 0h7m1 0h7m1 0h8m1 0h1m7 0h1m3 0h1m6 0h1m24 0h1m3 0h1M0 142.5h1m17 0h1m5 0h2m1 0h1m3 0h2m2 0h1m3 0h1m1 0h1m1 0h1m5 0h3m3 0h7m1 0h4m2 0h1m1 0h1m1 0h2m1 0h6m1 0h2m1 0h2m5 0h4m3 0h1m3 0h1m2 0h1m1 0h1m6 0h1m42 0h1M12 141.5h2m5 0h1m3 0h1m2 0h2m1 0h2m3 0h5m2 0h3m1 0h2m1 0h10m2 0h1m1 0h4m1 0h2m1 0h3m1 0h3m1 0h1m7 0h7m1 0h1m1 0h2m1 0h1m1 0h1m5 0h1m14 0h1M11 140.5h1m1 0h1m2 0h1m7 0h1m3 0h1m1 0h1m3 0h2m2 0h5m1 0h1m1 0h3m1 0h7m1 0h7m1 0h2m1 0h7m1 0h3m1 0h2m1 0h3m2 0h2m1 0h1m3 0h1m4 0h1m1 0h1m2 0h1m3 0h1m2 0h1m3 0h1m2 0h1m7 0h1m5 0h1m12 0h1m21 0h1M2 139.5h1m6 0h1m4 0h1m3 0h1m2 0h1m2 0h1m4 0h1m1 0h2m2 0h1m2 0h2m3 0h4m3 0h4m1 0h3m2 0h2m1 0h9m1 0h2m1 0h1m1 0h3m1 0h1m2 0h3m4 0h7m1 0h3m4 0h1m3 0h1m2 0h1m5 0h1m11 0h1M18 138.5h1m1 0h2m1 0h1m1 0h1m6 0h2m1 0h8m1 0h2m1 0h3m1 0h1m1 0h1m1 0h9m2 0h14m1 0h4m2 0h2m1 0h1m1 0h1m2 0h2m3 0h1m5 0h2m5 0h1m6 0h1m23 0h1m12 0h1M7 137.5h1m3 0h2m1 0h1m7 0h1m9 0h2m1 0h4m2 0h1m1 0h1m1 0h7m1 0h1m1 0h2m1 0h1m1 0h3m1 0h16m1 0h5m1 0h1m1 0h1m3 0h3m1 0h2m3 0h2m3 0h1m9 0h1m9 0h1m6 0h2m9 0h1m44 0h1M21 136.5h1m2 0h2m1 0h1m1 0h2m3 0h3m3 0h5m1 0h1m3 0h33m1 0h4m1 0h1m2 0h3m1 0h1m1 0h1m6 0h1m1 0h2m2 0h1m4 0h2m2 0h1m19 0h1M15 135.5h2m1 0h1m3 0h1m3 0h1m8 0h1m1 0h1m2 0h1m3 0h1m1 0h1m2 0h1m2 0h1m1 0h1m2 0h1m1 0h27m1 0h1m1 0h1m2 0h1m3 0h2m2 0h2m1 0h1m2 0h2m4 0h1m1 0h2m15 0h1m4 0h1m14 0h1M0 134.5h1m2 0h1m2 0h1m2 0h1m9 0h3m7 0h1m2 0h1m2 0h2m1 0h2m3 0h2m1 0h9m1 0h20m1 0h8m2 0h1m1 0h2m1 0h3m2 0h1m3 0h1m1 0h1m1 0h1m3 0h1m6 0h1m9 0h1m5 0h1m3 0h1m2 0h1m7 0h1M26 133.5h1m6 0h2m1 0h1m5 0h1m1 0h1m2 0h2m1 0h3m2 0h3m1 0h1m1 0h2m1 0h17m1 0h6m1 0h4m1 0h1m1 0h2m3 0h6m3 0h1m2 0h1m1 0h1m7 0h1m1 0h1m30 0h1M14 132.5h1m13 0h1m4 0h1m1 0h5m1 0h2m2 0h3m1 0h4m3 0h6m2 0h13m1 0h6m3 0h6m2 0h1m3 0h2m1 0h1m2 0h3m1 0h1m1 0h2m3 0h1m1 0h1m13 0h1m1 0h1m35 0h1m26 0h1M19 131.5h1m1 0h1m3 0h2m7 0h2m2 0h2m9 0h1m1 0h1m2 0h2m1 0h2m1 0h5m2 0h3m2 0h2m1 0h15m1 0h1m1 0h4m1 0h1m2 0h1m1 0h1m4 0h1m12 0h1m7 0h2m1 0h1m1 0h1m13 0h1m6 0h1m17 0h1M18 130.5h3m13 0h1m2 0h2m1 0h1m5 0h1m2 0h1m2 0h2m1 0h5m1 0h2m2 0h2m1 0h7m1 0h5m1 0h7m1 0h4m1 0h2m1 0h1m1 0h2m2 0h1m6 0h2m7 0h2m17 0h1m1 0h1m9 0h1m1 0h1m6 0h1M19 129.5h1m6 0h3m5 0h1m3 0h1m3 0h1m1 0h3m1 0h1m1 0h1m1 0h2m3 0h1m1 0h16m2 0h2m1 0h11m1 0h4m1 0h7m4 0h1m15 0h1m23 0h1m8 0h1M8 128.5h1m19 0h1m2 0h1m2 0h2m6 0h1m3 0h1m2 0h4m3 0h1m1 0h10m1 0h9m1 0h5m1 0h11m1 0h3m8 0h1m2 0h1m2 0h1m6 0h1m7 0h1m21 0h1m2 0h1m1 0h1M12 127.5h1m17 0h1m2 0h1m5 0h1m1 0h2m1 0h1m4 0h6m1 0h1m2 0h6m1 0h29m1 0h5m7 0h1m1 0h2m1 0h2m14 0h1m1 0h1m4 0h1m3 0h1M33 126.5h1m3 0h1m4 0h7m3 0h2m3 0h3m2 0h8m1 0h21m2 0h3m2 0h1m2 0h3m3 0h3m6 0h1m2 0h1m6 0h1m1 0h1m3 0h1m1 0h1m4 0h1m6 0h1m3 0h1m5 0h1M15 125.5h1m1 0h1m3 0h1m1 0h1m5 0h1m1 0h1m2 0h1m2 0h3m3 0h1m3 0h1m1 0h1m1 0h1m1 0h1m1 0h1m2 0h3m1 0h11m1 0h18m1 0h2m2 0h2m1 0h2m1 0h1m1 0h4m7 0h1m1 0h1m2 0h3m3 0h2m11 0h1m6 0h2m4 0h1m4 0h1m12 0h1m7 0h1M27 124.5h1m11 0h1m4 0h1m3 0h1m5 0h1m1 0h1m2 0h2m2 0h1m1 0h1m1 0h25m3 0h5m2 0h5m1 0h2m3 0h2m3 0h2m3 0h1m10 0h1m3 0h2m1 0h1m1 0h1m2 0h1m1 0h1m1 0h1m2 0h1M23 123.5h1m8 0h2m3 0h1m6 0h2m3 0h1m6 0h5m1 0h2m1 0h9m1 0h2m1 0h17m1 0h4m1 0h1m1 0h1m3 0h1m16 0h1m3 0h1m1 0h2m1 0h1m16 0h1m3 0h2m4 0h1M24 122.5h1m11 0h1m4 0h1m3 0h1m6 0h1m3 0h2m1 0h2m2 0h4m1 0h20m1 0h9m1 0h3m1 0h2m3 0h2m1 0h1m2 0h4m3 0h2m7 0h1m4 0h1m1 0h1m5 0h2m25 0h1m3 0h1M34 121.5h1m8 0h1m9 0h1m2 0h1m1 0h1m1 0h19m2 0h13m1 0h3m1 0h3m1 0h1m1 0h3m1 0h1m1 0h1m1 0h2m4 0h1m13 0h1m2 0h1m3 0h1m3 0h1m4 0h1m12 0h1M29 120.5h2m17 0h1m1 0h2m2 0h2m4 0h6m1 0h2m1 0h6m2 0h1m1 0h25m1 0h7m2 0h2m3 0h1m3 0h2m1 0h1m8 0h1m3 0h1m20 0h2m7 0h1m2 0h1m4 0h1M22 119.5h1m7 0h1m12 0h1m1 0h1m7 0h2m3 0h2m2 0h2m1 0h1m1 0h1m3 0h24m1 0h5m1 0h2m1 0h3m1 0h3m1 0h1m1 0h1m5 0h1m1 0h3m3 0h2m1 0h1m3 0h1m14 0h1m7 0h1m8 0h1m10 0h1M30 118.5h1m4 0h1m2 0h1m4 0h1m7 0h1m2 0h3m1 0h1m1 0h1m3 0h4m1 0h1m1 0h34m2 0h2m2 0h1m1 0h1m3 0h1m1 0h1m12 0h1m1 0h3m11 0h1m2 0h1m20 0h1M39 117.5h1m4 0h1m10 0h1m1 0h1m4 0h1m1 0h2m1 0h2m2 0h1m1 0h35m2 0h1m3 0h3m1 0h2m12 0h1m1 0h1m1 0h1m7 0h1m1 0h1m9 0h1m9 0h1m20 0h1M40 116.5h1m12 0h1m1 0h1m2 0h1m8 0h5m2 0h26m2 0h1m1 0h1m1 0h2m1 0h3m1 0h1m1 0h4m1 0h1m1 0h3m22 0h1m4 0h3m20 0h1m5 0h1M35 115.5h1m20 0h1m1 0h1m1 0h2m2 0h1m1 0h2m1 0h2m1 0h6m1 0h11m1 0h4m1 0h12m1 0h5m1 0h3m11 0h1m2 0h1m11 0h1m2 0h1m4 0h1m4 0h1m3 0h1m5 0h1m8 0h1m3 0h1M41 114.5h1m17 0h1m3 0h4m4 0h2m2 0h1m2 0h3m1 0h12m1 0h7m1 0h7m3 0h1m2 0h2m5 0h1m1 0h4m9 0h1m11 0h1m34 0h1M48 113.5h1m10 0h1m1 0h1m2 0h2m1 0h4m1 0h1m1 0h3m2 0h19m2 0h8m1 0h2m1 0h2m3 0h1m3 0h2m7 0h1m4 0h1m13 0h2m6 0h1m3 0h1m16 0h1M52 112.5h1m6 0h1m2 0h2m2 0h2m1 0h1m2 0h1m1 0h2m1 0h9m1 0h13m1 0h11m1 0h1m2 0h1m5 0h1m1 0h3m3 0h1m21 0h1M40 111.5h1m6 0h1m2 0h1m7 0h1m7 0h4m3 0h1m1 0h2m1 0h14m2 0h1m1 0h8m1 0h3m1 0h1m1 0h2m1 0h1m1 0h1m1 0h3m7 0h4m1 0h1m18 0h2m1 0h1m20 0h1m9 0h1M47 110.5h1m9 0h1m8 0h5m1 0h3m1 0h24m1 0h3m2 0h3m1 0h2m5 0h1m1 0h2m1 0h1m1 0h1m10 0h1m1 0h1m6 0h1m4 0h1m10 0h1m3 0h1M42 109.5h1m8 0h1m18 0h1m1 0h1m2 0h1m3 0h2m1 0h32m2 0h2m3 0h3m9 0h1m2 0h2m3 0h1m2 0h2m4 0h1m1 0h1m2 0h1m8 0h1m6 0h1m4 0h1M54 108.5h1m18 0h1m1 0h5m3 0h6m1 0h3m1 0h12m1 0h10m3 0h1m1 0h1m5 0h1m1 0h1m6 0h1m6 0h1m1 0h1m9 0h1m4 0h1m9 0h1M55 107.5h1m6 0h2m5 0h1m2 0h3m4 0h2m1 0h2m2 0h4m1 0h8m1 0h9m1 0h1m1 0h2m2 0h1m1 0h1m1 0h1m7 0h1m1 0h1m21 0h2m3 0h1m1 0h1m3 0h1m8 0h1m2 0h1M73 106.5h1m4 0h5m1 0h3m2 0h10m1 0h5m1 0h5m1 0h2m1 0h1m4 0h1m3 0h1m3 0h1m1 0h1m4 0h1m2 0h1m3 0h1m14 0h3M58 105.5h1m3 0h2m1 0h1m9 0h1m1 0h1m1 0h2m1 0h2m1 0h3m1 0h5m1 0h11m1 0h5m1 0h3m2 0h2m3 0h1m4 0h1m5 0h1m9 0h1m2 0h1M38 104.5h1m18 0h1m12 0h1m2 0h1m2 0h1m2 0h4m4 0h2m2 0h12m1 0h8m1 0h1m2 0h1m2 0h1m1 0h3m3 0h1m1 0h1m11 0h1m8 0h1m3 0h1m8 0h2M59 103.5h1m6 0h1m8 0h2m3 0h1m2 0h1m2 0h3m1 0h1m1 0h3m1 0h13m3 0h1m7 0h1m1 0h2m2 0h2m1 0h2m1 0h1m2 0h2m6 0h1m6 0h1m9 0h1m1 0h1m13 0h1M73 102.5h1m1 0h2m5 0h4m1 0h1m1 0h1m1 0h6m1 0h2m1 0h8m2 0h3m1 0h1m1 0h2m3 0h1m29 0h1m6 0h1m6 0h1M59 101.5h1m9 0h1m13 0h1m1 0h1m2 0h3m2 0h1m1 0h1m1 0h3m2 0h13m4 0h1m1 0h1m1 0h1m1 0h1m2 0h2m21 0h1m12 0h1M65 100.5h1m2 0h1m10 0h1m5 0h1m1 0h1m1 0h3m3 0h7m1 0h1m1 0h5m1 0h5m2 0h1m3 0h1m1 0h1m5 0h1m16 0h1m3 0h1m14 0h1m6 0h1M70 99.5h1m8 0h1m1 0h2m1 0h1m1 0h3m1 0h4m1 0h2m1 0h4m3 0h2m5 0h3m1 0h1m2 0h1m1 0h1m9 0h1m11 0h1m1 0h1m5 0h1m6 0h1m3 0h1m11 0h1M79 98.5h1m2 0h1m1 0h1m1 0h2m1 0h5m1 0h10m2 0h5m2 0h2m1 0h3m2 0h2m1 0h1m17 0h1m3 0h1m19 0h1M58 97.5h1m29 0h1m1 0h1m3 0h1m2 0h1m1 0h2m1 0h3m1 0h2m3 0h9m1 0h2m5 0h3m1 0h2m5 0h1m30 0h1m12 0h1M92 96.5h2m3 0h1m1 0h1m2 0h3m1 0h2m1 0h1m7 0h2m10 0h1m17 0h1m6 0h1M95 95.5h1m1 0h2m1 0h2m1 0h1m1 0h1m1 0h2m1 0h2m2 0h1m2 0h2m2 0h1m1 0h2m2 0h3m1 0h1m36 0h1M86 94.5h1m8 0h1m3 0h1m1 0h4m7 0h3m1 0h3m1 0h1m1 0h2m2 0h1m17 0h1m16 0h1m7 0h1m1 0h1M98 93.5h1m1 0h1m4 0h2m1 0h1m1 0h1m1 0h1m1 0h1m4 0h3m10 0h1m25 0h1M79 92.5h2m11 0h2m2 0h2m4 0h1m3 0h3m2 0h3m4 0h2m1 0h1m1 0h1m2 0h1m2 0h1m7 0h1m4 0h1m26 0h1m7 0h1M95 91.5h2m1 0h1m6 0h2m2 0h2m1 0h2m2 0h3m1 0h1m1 0h1m2 0h1m3 0h1m2 0h1m8 0h1m1 0h1m9 0h1M76 90.5h1m8 0h1m6 0h1m2 0h2m10 0h1m1 0h1m2 0h2m4 0h4m1 0h1m1 0h1m1 0h2m1 0h2m7 0h2m45 0h1M102 89.5h1m10 0h3m3 0h7m1 0h1m1 0h1m2 0h1m14 0h1m1 0h1m2 0h1M84 88.5h1m6 0h1m9 0h1m5 0h1m3 0h2m2 0h2m1 0h1m2 0h3m1 0h1m5 0h2m3 0h2m26 0h1M86 87.5h1m7 0h1m4 0h1m4 0h1m2 0h2m3 0h1m2 0h1m2 0h1m2 0h1m1 0h1m2 0h1m1 0h3m7 0h1m1 0h1M96 86.5h1m10 0h2m4 0h1m1 0h1m1 0h7m1 0h1m1 0h3M105 85.5h1m10 0h1m2 0h2m2 0h2m2 0h2m18 0h1M96 84.5h1m6 0h1m3 0h1m4 0h1m4 0h1m2 0h4m3 0h4m1 0h1m3 0h1M112 83.5h2m2 0h6m1 0h6m1 0h1m1 0h1m2 0h1M102 82.5h1m9 0h1m3 0h3m3 0h4m3 0h2m6 0h1m33 0h1M96 81.5h1m17 0h2m6 0h1m2 0h1m2 0h2m1 0h2m1 0h1m3 0h1M113 80.5h1m3 0h4m3 0h1m1 0h1m1 0h3m7 0h1m24 0h1M119 79.5h1m1 0h1m1 0h3m1 0h4m2 0h1m3 0h1m4 0h2m49 0h1M114 78.5h1m3 0h1m1 0h2m1 0h4m4 0h1m5 0h1m21 0h1M108 77.5h1m6 0h1m3 0h1m4 0h1m3 0h1m2 0h1m1 0h1M109 76.5h1m8 0h1m3 0h3m3 0h4m3 0h1M112 75.5h1m4 0h2m6 0h1m2 0h1m1 0h1m2 0h1m5 0h1M122 74.5h1m2 0h1m2 0h4m16 0h1M116 73.5h1m7 0h2m1 0h1m5 0h1m3 0h1M113 72.5h1m9 0h1m2 0h1m2 0h1m8 0h1M83 71.5h1m12 0h1m26 0h1m5 0h1m6 0h1m37 0h1M122 70.5h1m8 0h2m4 0h1M124 69.5h1m2 0h1m3 0h1M130 68.5h1M125 67.5h1M121 66.5h1m8 0h1m2 0h2m6 0h1M118 65.5h1m19 0h1m1 0h1m1 0h1M126 64.5h1m1 0h1m2 0h1m6 0h1M117 63.5h1m1 0h1m16 0h1M119 62.5h1m14 0h1M128 61.5h1M126 60.5h1m15 0h1M78 59.5h1m39 0h1m8 0h1m11 0h1m4 0h1M111 58.5h1m12 0h1m12 0h1m2 0h1m7 0h1M118 57.5h1m7 0h2m7 0h1M93 56.5h1m21 0h1m6 0h1m4 0h2m1 0h2m5 0h1m4 0h2M122 55.5h1m1 0h1m6 0h1m3 0h1m5 0h1m5 0h1m20 0h1M110 54.5h1m11 0h2m5 0h1m5 0h4m1 0h1m3 0h1m14 0h1M131 53.5h1m3 0h1m8 0h1m4 0h1m15 0h1m1 0h1m2 0h1M120 52.5h1m2 0h1m3 0h1m1 0h1m1 0h1m4 0h2m1 0h1m4 0h1m2 0h1m2 0h1m10 0h1M62 51.5h1m63 0h2m4 0h1m4 0h1m1 0h3m8 0h1m1 0h2m1 0h1M67 50.5h1m32 0h1m2 0h1m9 0h1m5 0h2m5 0h1m2 0h1m1 0h1m1 0h1m4 0h1m3 0h1m1 0h1m2 0h1m2 0h1m11 0h1M75 49.5h1m22 0h1m21 0h1m1 0h1m5 0h1m2 0h1m1 0h2m1 0h2m3 0h1m3 0h1m2 0h1m1 0h1M48 48.5h1m49 0h1m20 0h1m1 0h1m2 0h1m2 0h4m2 0h1m1 0h1m2 0h3m1 0h2m2 0h1m1 0h6m3 0h1m10 0h1M121 47.5h1m6 0h3m1 0h1m2 0h2m4 0h6m2 0h1m2 0h1m3 0h1m5 0h1M94 46.5h1m10 0h1m6 0h2m7 0h1m2 0h1m1 0h1m2 0h1m8 0h2m2 0h1m1 0h1m1 0h1m1 0h1m2 0h3m2 0h1m3 0h2m1 0h1M120 45.5h1m2 0h1m7 0h1m1 0h3m1 0h1m1 0h1m5 0h3m1 0h2m6 0h2m9 0h1M124 44.5h2m3 0h2m6 0h1m1 0h2m2 0h2m1 0h3m3 0h2m1 0h1m2 0h2m10 0h1M61 43.5h1m7 0h1m11 0h1m10 0h1m8 0h1m20 0h1m7 0h1m1 0h1m1 0h1m1 0h2m7 0h4m1 0h3m1 0h2m1 0h1m1 0h1m1 0h1m1 0h1m6 0h1m5 0h1M110 42.5h1m3 0h1m8 0h1m4 0h2m3 0h1m2 0h2m1 0h4m1 0h1m1 0h10m1 0h2m2 0h2m4 0h1m6 0h1M67 41.5h1m40 0h1m14 0h1m1 0h1m2 0h2m1 0h3m1 0h2m2 0h4m1 0h1m1 0h10m1 0h2m1 0h1m3 0h2m1 0h2M98 40.5h1m21 0h1m1 0h1m1 0h1m9 0h2m1 0h1m1 0h3m1 0h2m1 0h12m1 0h2m1 0h1m1 0h1m3 0h1m7 0h1M81 39.5h1m23 0h1m23 0h1m1 0h1m1 0h1m1 0h2m1 0h18m1 0h1m1 0h5m1 0h1m3 0h1m7 0h1M86 38.5h1m27 0h1m3 0h1m15 0h1m1 0h1m2 0h3m1 0h20m2 0h1m8 0h1m2 0h1M92 37.5h1m33 0h1m4 0h2m2 0h6m1 0h1m1 0h4m1 0h12m1 0h1m1 0h2m3 0h1m1 0h2m14 0h1M119 36.5h1m10 0h1m6 0h2m2 0h12m1 0h2m1 0h2m3 0h1m4 0h2M79 35.5h1m23 0h1m6 0h1m21 0h1m5 0h2m1 0h1m1 0h7m2 0h5m2 0h7m14 0h1M30 34.5h1m97 0h1m4 0h6m1 0h1m2 0h1m1 0h2m1 0h7m1 0h1m2 0h2m1 0h3m2 0h1m6 0h3m5 0h2M135 33.5h1m7 0h2m2 0h1m2 0h2m1 0h1m5 0h1m2 0h3m11 0h1M108 32.5h1m19 0h1m1 0h2m2 0h3m1 0h4m1 0h16m1 0h1m3 0h2m1 0h1m3 0h1M90 31.5h1m35 0h1m1 0h1m6 0h16m1 0h5m2 0h2m1 0h1m5 0h2m3 0h1M90 30.5h1m35 0h2m3 0h1m1 0h5m1 0h5m2 0h17m4 0h1m6 0h1M89 29.5h1m21 0h1m16 0h2m4 0h1m1 0h26m1 0h3m2 0h2m1 0h2M91 28.5h1m36 0h2m2 0h20m2 0h12m1 0h1m1 0h1m3 0h2m1 0h1m1 0h1M105 27.5h1m19 0h1m9 0h4m1 0h2m1 0h5m1 0h5m1 0h1m1 0h1m2 0h3m1 0h2m1 0h1m4 0h2m2 0h1m3 0h1M30 26.5h1m104 0h2m2 0h2m2 0h2m4 0h3m3 0h1m1 0h2m2 0h1m1 0h2m1 0h2m1 0h1m14 0h1m5 0h1M132 25.5h1m2 0h1m5 0h1m3 0h1m2 0h2m1 0h1m1 0h2m1 0h2m2 0h1m1 0h1m34 0h1M134 24.5h1m11 0h2m6 0h1m21 0h1M83 23.5h1M159 22.5h1m3 0h1M146 21.5h1m7 0h1m5 0h1m10 0h1m18 0h1M146 20.5h1m13 0h1m4 0h1m10 0h1M158 19.5h1M8 17.5h1m153 0h1M149 16.5h1M65 4.5h1M20 3.5h1" stroke="#1a1a1a" stroke-width="1" fill="none"/>
<path transform="translate(385.70 298.80) scale(1.4)" d="M19 159.5h1m2 0h2m3 0h1m1 0h1m3 0h1m6 0h1m2 0h1m1 0h1m5 0h1M3 158.5h1m20 0h1m5 0h2m1 0h1m2 0h1m4 0h6m8 0h1M9 157.5h1m13 0h1m3 0h1m1 0h2m3 0h2m2 0h1m5 0h1m3 0h1m1 0h1m4 0h1m34 0h1m12 0h1M0 156.5h1m6 0h1m2 0h1m5 0h2m1 0h1m8 0h1m4 0h4m1 0h2m3 0h5m2 0h1m4 0h1M20 155.5h1m4 0h4m1 0h1m1 0h1m1 0h1m1 0h1m1 0h1m1 0h1m1 0h3m7 0h1m6 0h1m1 0h1M27 154.5h1m2 0h1m1 0h3m2 0h2m3 0h1m3 0h1m2 0h3m3 0h1m2 0h1m4 0h2M5 153.5h1m6 0h2m4 0h2m1 0h1m1 0h1m2 0h1m1 0h3m1 0h3m4 0h6m5 0h1m3 0h1m2 0h1m2 0h1m8 0h1m21 0h1m27 0h1M2 152.5h1m11 0h1m2 0h1m4 0h1m2 0h1m2 0h4m1 0h1m1 0h4m1 0h3m2 0h1m1 0h1m5 0h1m2 0h1m1 0h1m1 0h1m4 0h2M21 151.5h1m6 0h1m1 0h1m3 0h3m1 0h2m1 0h1m2 0h2m12 0h2m67 0h1M15 150.5h1m1 0h1m2 0h1m3 0h1m5 0h1m2 0h2m1 0h2m3 0h1m2 0h5m3 0h2m1 0h1m1 0h4m1 0h1m26 0h1m74 0h1M19 149.5h1m4 0h1m5 0h2m1 0h1m1 0h1m1 0h2m1 0h1m1 0h2m3 0h1m3 0h2m9 0h1m1 0h1M8 148.5h1m11 0h1m2 0h1m1 0h2m2 0h5m1 0h2m1 0h9m1 0h1m4 0h4m1 0h1m2 0h1m2 0h1m2 0h1m7 0h1m5 0h1M18 147.5h4m3 0h1m1 0h2m3 0h2m2 0h12m1 0h7m1 0h3m4 0h1m2 0h1m39 0h1m14 0h1M28 146.5h2m1 0h1m2 0h1m1 0h3m1 0h8m1 0h1m1 0h3m2 0h1m1 0h2m38 0h1m26 0h1M15 145.5h1m1 0h2m2 0h2m1 0h2m2 0h7m2 0h1m1 0h11m2 0h6m3 0h1m3 0h1m2 0h1m1 0h1m69 0h1M6 144.5h1m13 0h1m4 0h1m1 0h2m1 0h4m1 0h2m2 0h5m1 0h9m1 0h3m2 0h1m2 0h1m2 0h1m1 0h1m1 0h1m8 0h1m1 0h1m8 0h1m30 0h1m20 0h1M20 143.5h1m1 0h1m2 0h2m1 0h2m1 0h6m1 0h10m2 0h3m1 0h4m1 0h3m2 0h1m1 0h1m3 0h1m46 0h1M12 142.5h1m8 0h4m3 0h1m1 0h1m5 0h18m1 0h7m2 0h2m1 0h1m1 0h3m2 0h1m26 0h1m8 0h1M24 141.5h1m2 0h1m1 0h3m1 0h11m1 0h13m2 0h1m2 0h3m1 0h2m1 0h1m1 0h1m28 0h1m18 0h1m7 0h1M20 140.5h1m4 0h3m1 0h1m2 0h3m1 0h1m2 0h27m1 0h1m1 0h1m1 0h2m1 0h1m3 0h1m4 0h3m13 0h1m3 0h1M27 139.5h1m4 0h2m3 0h1m3 0h1m1 0h1m1 0h18m1 0h1m1 0h1m1 0h3m3 0h1m2 0h1m3 0h1m30 0h1m3 0h1M15 138.5h1m1 0h1m6 0h1m1 0h1m1 0h1m1 0h1m1 0h1m1 0h1m1 0h12m1 0h15m2 0h5m4 0h1m1 0h2m5 0h1m3 0h1m16 0h2m9 0h1m27 0h1M29 137.5h1m4 0h2m1 0h1m2 0h7m1 0h2m1 0h14m1 0h1m1 0h2m1 0h1m3 0h2m12 0h1m6 0h1M25 136.5h1m8 0h1m1 0h1m1 0h2m1 0h6m1 0h15m3 0h7m2 0h1m4 0h3m11 0h1m3 0h1m10 0h1m5 0h1M24 135.5h1m2 0h1m5 0h4m2 0h1m1 0h5m1 0h22m1 0h1m2 0h4m1 0h1m6 0h1m2 0h1m1 0h1m12 0h1m6 0h1m25 0h1M23 134.5h1m8 0h1m3 0h1m1 0h2m2 0h3m1 0h1m1 0h10m1 0h9m1 0h1m2 0h3m1 0h1m3 0h1m2 0h1m17 0h1m1 0h1m5 0h1M29 133.5h1m7 0h1m3 0h1m1 0h30m1 0h3m8 0h2m19 0h1m4 0h1m2 0h1M26 132.5h1m2 0h1m7 0h1m2 0h1m1 0h5m1 0h23m2 0h1m1 0h7m1 0h1m3 0h1m5 0h2m9 0h2m8 0h1m29 0h1M22 131.5h1m1 0h1m7 0h2m4 0h3m1 0h35m3 0h2m1 0h1m1 0h1m4 0h1m1 0h1m9 0h1m3 0h1m4 0h1M34 130.5h1m5 0h1m1 0h35m1 0h3m2 0h1m4 0h1m6 0h1m1 0h1m12 0h2m17 0h1M23 129.5h1m6 0h1m2 0h1m3 0h1m2 0h1m2 0h2m1 0h11m1 0h18m1 0h2m2 0h2m7 0h1m8 0h1m3 0h2m1 0h1m5 0h1m7 0h1M35 128.5h1m8 0h20m1 0h9m1 0h3m2 0h5m1 0h2m1 0h1m11 0h2m6 0h1m3 0h1m5 0h1m12 0h1M30 127.5h1m2 0h1m2 0h1m2 0h1m3 0h2m1 0h5m1 0h2m2 0h3m1 0h12m1 0h11m4 0h2m2 0h2m1 0h2m1 0h1m14 0h1m4 0h1m8 0h1M24 126.5h1m17 0h1m1 0h1m2 0h1m1 0h25m1 0h6m1 0h1m1 0h2m2 0h1m5 0h1m4 0h1m3 0h1m4 0h2m21 0h1M30 125.5h1m12 0h4m1 0h2m1 0h18m1 0h6m2 0h1m1 0h1m1 0h2m1 0h1m7 0h1m2 0h1m4 0h1m2 0h1m5 0h2m1 0h1M28 124.5h1m13 0h1m1 0h3m1 0h2m1 0h2m2 0h25m1 0h3m1 0h2m1 0h1m1 0h1m1 0h1m4 0h1m6 0h1m9 0h1m12 0h1m7 0h1M28 123.5h1m3 0h1m11 0h1m1 0h3m1 0h1m1 0h3m1 0h9m1 0h10m1 0h4m1 0h6m1 0h1m1 0h2m3 0h1m1 0h3m2 0h1m2 0h2m2 0h1m1 0h2m1 0h1M34 122.5h1m4 0h1m2 0h1m4 0h1m2 0h3m1 0h8m1 0h22m1 0h1m3 0h1m2 0h5m6 0h1m5 0h1m6 0h1m1 0h1M41 121.5h1m7 0h3m1 0h3m1 0h29m1 0h1m7 0h1m4 0h3m3 0h1m1 0h1m14 0h1M46 120.5h1m2 0h3m2 0h1m1 0h2m1 0h19m1 0h6m1 0h1m1 0h1m12 0h1m5 0h1m14 0h1m24 0h1M51 119.5h2m1 0h3m2 0h2m1 0h5m1 0h20m1 0h1m2 0h1m1 0h3m3 0h1m3 0h1m12 0h1m39 0h1M48 118.5h1m1 0h2m2 0h1m2 0h6m1 0h23m2 0h1m2 0h1m2 0h1m3 0h1m1 0h2m1 0h1m3 0h1m30 0h1M39 117.5h1m10 0h1m3 0h1m2 0h6m2 0h17m2 0h2m1 0h2m1 0h1m1 0h1m1 0h1m27 0h1M47 116.5h1m4 0h1m3 0h1m1 0h18m1 0h12m2 0h4m1 0h1m6 0h1m8 0h2M54 115.5h2m1 0h1m2 0h2m1 0h1m1 0h16m1 0h3m1 0h7m1 0h1m3 0h1m1 0h1m14 0h1m5 0h1M53 114.5h1m1 0h2m2 0h5m1 0h6m1 0h15m2 0h5m1 0h1m4 0h1m3 0h2m5 0h1M44 113.5h1m8 0h1m2 0h1m1 0h5m1 0h5m1 0h15m1 0h1m1 0h4m2 0h2m20 0h1m23 0h1M49 112.5h1m3 0h1m1 0h1m4 0h2m1 0h2m1 0h1m1 0h8m1 0h14m1 0h6m1 0h3m1 0h1m2 0h1m41 0h1M48 111.5h1m9 0h2m2 0h2m2 0h2m1 0h1m1 0h4m1 0h11m2 0h7m2 0h1m1 0h2m5 0h2m6 0h1m6 0h1m17 0h1M38 110.5h1m20 0h1m7 0h4m1 0h16m1 0h3m1 0h3m1 0h1m3 0h1m5 0h1M66 109.5h1m1 0h1m2 0h19m1 0h5m4 0h1m2 0h1m1 0h1m3 0h1m13 0h1M65 108.5h1m2 0h3m2 0h2m2 0h7m2 0h2m1 0h1m1 0h1m1 0h4m1 0h1m3 0h2m4 0h2m1 0h1M67 107.5h1m2 0h2m2 0h1m2 0h10m1 0h3m1 0h2m1 0h1m3 0h2m5 0h2m1 0h1m39 0h1M35 106.5h1m21 0h1m5 0h1m5 0h1m2 0h1m1 0h1m2 0h2m1 0h9m1 0h7m1 0h1m1 0h1m2 0h1m2 0h1m1 0h2m7 0h1m33 0h1M70 105.5h1m2 0h2m1 0h2m1 0h10m1 0h7m4 0h1M65 104.5h2m5 0h1m1 0h1m2 0h3m1 0h3m1 0h7m1 0h1m1 0h4m2 0h2m1 0h1m1 0h1m6 0h1M62 103.5h1m12 0h1m5 0h2m1 0h5m2 0h4m1 0h4m11 0h1M76 102.5h1m1 0h1m3 0h3m2 0h2m1 0h2m1 0h3m5 0h2m1 0h1m5 0h1m33 0h1M66 101.5h1m6 0h1m1 0h1m1 0h1m9 0h1m1 0h7m1 0h2m1 0h1m1 0h1m4 0h1M74 100.5h1m4 0h1m1 0h1m1 0h1m1 0h2m1 0h3m1 0h8m2 0h1m8 0h1M70 99.5h1m11 0h2m2 0h2m1 0h2m3 0h2m1 0h1m2 0h1m20 0h1M75 98.5h1m5 0h1m3 0h2m2 0h4m1 0h4m12 0h1m11 0h1M87 97.5h4m3 0h2m4 0h1m2 0h1m7 0h1M86 96.5h2m6 0h1m1 0h1m7 0h1m55 0h1M70 95.5h1m9 0h1m2 0h1m8 0h2m2 0h2m1 0h1m23 0h1M71 94.5h1m14 0h1m2 0h1m4 0h1m2 0h1m4 0h1m1 0h1m2 0h1m56 0h1M91 93.5h2m1 0h1m10 0h1m8 0h1m1 0h1M81 92.5h1m5 0h1m5 0h3m8 0h1m7 0h1m5 0h1M100 91.5h1m5 0h1m1 0h1M81 90.5h1m12 0h4m13 0h1M90 89.5h1m2 0h1m8 0h1m7 0h1m6 0h1M88 88.5h1m4 0h1m1 0h1m9 0h2m3 0h1m3 0h1M50 87.5h1m44 0h2m2 0h2m2 0h1m4 0h1m3 0h1M89 86.5h1m4 0h1m2 0h1m5 0h1m4 0h1m2 0h1m1 0h1m1 0h1m2 0h1m2 0h1M90 85.5h2m1 0h2m6 0h1m4 0h2m3 0h1m1 0h3m3 0h1m3 0h1M62 84.5h1m21 0h1m6 0h1m3 0h2m2 0h1m4 0h1m3 0h3m2 0h1m2 0h2m2 0h1M67 83.5h1m13 0h1m1 0h1m6 0h3m2 0h2m4 0h4m10 0h2m2 0h1M89 82.5h1m2 0h2m1 0h4m3 0h2m3 0h2m2 0h1m14 0h1m9 0h1M99 81.5h1m1 0h1m1 0h1m7 0h2m1 0h1m1 0h2m2 0h1M70 80.5h1m18 0h1m5 0h1m1 0h1m3 0h1m2 0h1m1 0h1m4 0h1m2 0h2m1 0h1m8 0h1m5 0h1m31 0h1M79 79.5h1m13 0h7m3 0h1m2 0h1m3 0h3m1 0h1m8 0h1m9 0h2m6 0h1m14 0h1m6 0h1M65 78.5h1m20 0h1m5 0h1m1 0h1m1 0h1m2 0h2m1 0h3m2 0h1m2 0h1m1 0h1m1 0h1m3 0h1m9 0h1m16 0h1M64 77.5h1m11 0h1m1 0h1m12 0h4m2 0h1m1 0h1m2 0h2m4 0h2m5 0h1m12 0h1m9 0h1m9 0h1m10 0h1M82 76.5h1m5 0h1m3 0h1m1 0h1m1 0h2m1 0h1m1 0h4m1 0h2m1 0h2m1 0h1m3 0h3m41 0h1M64 75.5h1m13 0h1m7 0h1m10 0h2m1 0h2m3 0h4m1 0h1m2 0h1m5 0h1m2 0h1m1 0h1m3 0h1m58 0h1M59 74.5h1m32 0h2m4 0h4m1 0h2m1 0h2m3 0h1m1 0h1m1 0h3m3 0h1m10 0h1m6 0h1m4 0h1m29 0h1m2 0h1M65 73.5h1m17 0h1m10 0h1m1 0h1m1 0h1m3 0h4m1 0h1m1 0h2m1 0h2m2 0h2m7 0h1m27 0h1m2 0h1m3 0h1m2 0h1m11 0h1M67 72.5h1m3 0h1m7 0h3m2 0h1m8 0h3m1 0h2m1 0h1m1 0h1m1 0h7m3 0h5m1 0h1m1 0h1m1 0h1m8 0h1m4 0h1m12 0h1m8 0h1m3 0h1m12 0h1M85 71.5h1m13 0h1m2 0h1m1 0h1m1 0h4m1 0h6m1 0h2m4 0h2m1 0h1m2 0h1m8 0h1m2 0h3m1 0h1m7 0h2m7 0h1m3 0h1m12 0h1m9 0h1M73 70.5h1m10 0h1m9 0h1m1 0h1m1 0h1m2 0h1m1 0h3m1 0h4m1 0h3m1 0h2m20 0h2m1 0h1m16 0h1m20 0h1M84 69.5h1m10 0h2m1 0h9m1 0h10m2 0h1m1 0h1m4 0h1m2 0h1m1 0h1m4 0h1m4 0h1m4 0h3m9 0h1m1 0h1m3 0h1M65 68.5h1m4 0h1m14 0h1m9 0h1m1 0h1m1 0h2m2 0h8m1 0h6m4 0h1m7 0h1m3 0h1m8 0h1m10 0h1m8 0h1m4 0h1m1 0h1M82 67.5h1m13 0h1m3 0h1m1 0h2m1 0h7m1 0h6m1 0h2m1 0h1m3 0h2m1 0h3m3 0h1m1 0h2m4 0h1m10 0h1m15 0h2m7 0h1M86 66.5h1m8 0h1m3 0h3m1 0h2m2 0h5m1 0h3m1 0h1m1 0h1m2 0h1m1 0h1m1 0h1m3 0h1m2 0h1m7 0h1m2 0h1m2 0h1m2 0h1m2 0h1m2 0h1m1 0h1m2 0h2m2 0h1m5 0h1m4 0h1M88 65.5h1m7 0h1m3 0h3m1 0h1m1 0h2m1 0h1m1 0h5m1 0h1m1 0h3m2 0h1m2 0h1m13 0h1m8 0h1m2 0h1m4 0h1m3 0h1m1 0h1m1 0h1m1 0h1m2 0h1m2 0h2m3 0h2m3 0h1m6 0h1M89 64.5h1m10 0h3m1 0h7m1 0h5m1 0h4m1 0h2m1 0h1m8 0h2m4 0h1m4 0h1m5 0h1m1 0h1m1 0h1m10 0h1m1 0h2m1 0h1m1 0h2m4 0h1m2 0h1m4 0h2M83 63.5h1m7 0h2m2 0h1m1 0h3m5 0h2m2 0h1m1 0h3m1 0h2m1 0h2m1 0h1m1 0h1m4 0h1m8 0h1m5 0h3m2 0h1m1 0h1m1 0h1m5 0h2m3 0h3m1 0h1m5 0h1m1 0h1m5 0h1m6 0h1M79 62.5h1m14 0h1m5 0h5m1 0h11m1 0h5m1 0h3m1 0h1m3 0h2m1 0h1m3 0h2m1 0h1m5 0h1m1 0h1m2 0h1m1 0h1m1 0h3m2 0h1m1 0h1m6 0h1m5 0h2m8 0h1M69 61.5h1m11 0h1m2 0h1m9 0h1m2 0h2m1 0h2m3 0h5m1 0h14m1 0h1m1 0h1m1 0h2m11 0h1m1 0h1m1 0h3m1 0h1m3 0h1m1 0h1m1 0h2m7 0h1m1 0h1m3 0h2m3 0h2m2 0h1M95 60.5h1m6 0h1m3 0h1m2 0h7m1 0h6m1 0h3m1 0h1m1 0h1m8 0h2m8 0h2m3 0h1m2 0h1m4 0h1m1 0h4m2 0h1m11 0h2m2 0h1m3 0h1M54 59.5h1m37 0h1m8 0h1m2 0h3m1 0h15m1 0h1m2 0h1m5 0h1m1 0h1m1 0h1m6 0h1m1 0h2m2 0h1m1 0h1m3 0h1m4 0h1m4 0h1m1 0h2m1 0h1m1 0h2m2 0h1m3 0h2m7 0h1M92 58.5h1m7 0h1m1 0h1m1 0h1m2 0h18m1 0h3m1 0h2m4 0h4m1 0h1m2 0h1m1 0h4m1 0h1m2 0h2m2 0h1m1 0h5m3 0h2m2 0h1m2 0h1m1 0h2m6 0h1M73 57.5h1m8 0h1m3 0h1m4 0h2m9 0h4m1 0h2m2 0h10m1 0h3m3 0h2m2 0h4m3 0h2m7 0h1m1 0h1m1 0h1m3 0h1m1 0h1m2 0h2m1 0h3m3 0h2m1 0h1m2 0h1m7 0h1m1 0h1M83 56.5h1m1 0h1m4 0h1m4 0h1m8 0h23m1 0h2m1 0h1m2 0h1m7 0h2m2 0h1m2 0h1m1 0h1m2 0h4m1 0h1m1 0h3m1 0h1m1 0h1m2 0h2m1 0h1m1 0h5m3 0h1M83 55.5h1m19 0h1m1 0h1m2 0h2m1 0h2m1 0h7m1 0h3m1 0h2m1 0h1m3 0h2m3 0h1m3 0h5m7 0h3m1 0h1m3 0h1m3 0h7m4 0h1m1 0h4m3 0h1m1 0h1M57 54.5h1m14 0h1m2 0h1m17 0h1m1 0h1m8 0h1m3 0h1m2 0h20m1 0h3m2 0h1m1 0h1m4 0h1m1 0h2m1 0h2m2 0h1m1 0h4m5 0h1m7 0h1m1 0h1m1 0h1m4 0h2m2 0h1m1 0h2M76 53.5h1m14 0h1m3 0h3m2 0h2m4 0h1m1 0h8m1 0h2m1 0h11m1 0h3m1 0h2m1 0h2m1 0h1m3 0h1m5 0h1m1 0h2m4 0h1m2 0h2m1 0h1m1 0h1m3 0h2m6 0h1m7 0h2m2 0h1M88 52.5h1m1 0h1m2 0h1m2 0h1m1 0h2m5 0h1m2 0h2m2 0h1m1 0h2m1 0h16m1 0h1m2 0h1m1 0h1m1 0h1m2 0h4m7 0h1m1 0h4m2 0h1m1 0h2m4 0h4m2 0h1m1 0h3m8 0h1m1 0h1M86 51.5h1m3 0h1m1 0h1m2 0h2m3 0h1m2 0h2m2 0h1m6 0h14m1 0h3m3 0h5m2 0h1m3 0h1m1 0h2m2 0h5m3 0h1m2 0h3m1 0h1m2 0h2m2 0h1m2 0h3m2 0h1m4 0h1m4 0h1M86 50.5h1m9 0h1m1 0h1m1 0h1m2 0h1m4 0h2m3 0h1m2 0h15m2 0h1m1 0h1m4 0h1m2 0h1m4 0h1m2 0h2m6 0h3m1 0h3m9 0h3m2 0h1m5 0h1m5 0h1M93 49.5h1m8 0h1m5 0h3m3 0h3m1 0h3m1 0h7m1 0h3m2 0h1m1 0h5m2 0h1m4 0h1m2 0h1m1 0h2m9 0h2m1 0h1m2 0h1m3 0h1m3 0h1m2 0h1M19 48.5h1m57 0h1m22 0h1m2 0h1m2 0h1m6 0h2m1 0h3m1 0h15m2 0h2m2 0h2m5 0h1m2 0h1m9 0h2m8 0h2m3 0h1m3 0h1m4 0h1m4 0h1M107 47.5h1m1 0h2m2 0h1m1 0h1m2 0h11m1 0h3m4 0h1m2 0h3m1 0h1m1 0h1m2 0h1m4 0h2m1 0h1m1 0h1m2 0h1m2 0h4m1 0h1m1 0h1m1 0h1m4 0h1M99 46.5h1m16 0h1m2 0h18m1 0h1m2 0h1m14 0h2m2 0h1m7 0h1m2 0h2m1 0h1m1 0h1m1 0h1m2 0h1M86 45.5h1m13 0h1m5 0h1m1 0h1m4 0h1m2 0h1m2 0h21m3 0h2m2 0h4m3 0h3m25 0h1m2 0h1m3 0h1M96 44.5h1m3 0h1m1 0h2m6 0h1m2 0h1m4 0h10m1 0h3m1 0h1m2 0h3m3 0h3m8 0h1m4 0h1m5 0h1m6 0h1m3 0h1m2 0h1m2 0h1m4 0h2m2 0h1M75 43.5h1m37 0h1m4 0h1m1 0h1m1 0h1m1 0h10m1 0h3m3 0h2m1 0h1m2 0h1m1 0h2m7 0h1m1 0h1m6 0h1m2 0h1m2 0h1m1 0h2m3 0h1m10 0h1M99 42.5h1m10 0h1m1 0h1m5 0h2m1 0h2m1 0h15m1 0h1m8 0h1m12 0h1m2 0h1m3 0h1m1 0h1m1 0h3m11 0h2m3 0h1M86 41.5h1m22 0h1m4 0h1m9 0h10m1 0h3m1 0h1m2 0h3m8 0h1m29 0h1m3 0h1M103 40.5h1m6 0h1m7 0h5m2 0h1m1 0h4m3 0h5m2 0h2m1 0h1m6 0h1m18 0h1m4 0h1M105 39.5h1m2 0h1m3 0h1m2 0h1m2 0h1m3 0h1m2 0h15m1 0h3m8 0h2m2 0h1m14 0h1m9 0h1M120 38.5h3m1 0h2m1 0h1m1 0h7m1 0h7m1 0h1m1 0h1m8 0h1m2 0h1m1 0h1m9 0h1M115 37.5h2m9 0h9m1 0h3m1 0h4m2 0h1m9 0h1m26 0h1M122 36.5h2m1 0h3m1 0h7m2 0h2m1 0h1m1 0h2m2 0h1m1 0h1m9 0h1m10 0h1m7 0h2M122 35.5h1m6 0h1m1 0h1m1 0h2m1 0h2m2 0h1m1 0h2m1 0h1m1 0h1m21 0h2m2 0h1m8 0h1M123 34.5h1m1 0h1m2 0h11m1 0h1m3 0h3m15 0h1m3 0h1m19 0h1M113 33.5h2m6 0h1m3 0h2m6 0h5m1 0h2m2 0h1m7 0h1m3 0h1m16 0h1m3 0h1m1 0h1m3 0h1M127 32.5h2m1 0h1m4 0h1m3 0h5m1 0h1m1 0h1m17 0h1m13 0h1m1 0h1m9 0h1M125 31.5h2m5 0h2m1 0h4m2 0h1m3 0h1m1 0h1m3 0h1m36 0h1m2 0h1M131 30.5h1m2 0h1m1 0h2m1 0h1m3 0h1m1 0h2m16 0h1m9 0h1M125 29.5h1m6 0h1m1 0h1m1 0h1m1 0h1m3 0h1m1 0h3m3 0h1m3 0h1m27 0h1M124 28.5h1m14 0h2m3 0h1m3 0h2m8 0h1m13 0h1M123 27.5h1m7 0h1m2 0h1m2 0h1m4 0h1m3 0h1m1 0h1m2 0h1m12 0h1M132 26.5h1m6 0h1m1 0h1m1 0h1m4 0h1M133 25.5h2m2 0h3m3 0h1m1 0h3m4 0h1M135 24.5h1m2 0h3m6 0h1m4 0h1m12 0h1m7 0h1M134 23.5h2m3 0h2m6 0h2m3 0h1m3 0h1M131 22.5h1m8 0h1m4 0h2m11 0h1M139 21.5h1m12 0h1m3 0h1m1 0h1M139 20.5h1m7 0h1M136 19.5h1m10 0h1m6 0h1m21 0h1M143 18.5h2m3 0h1m11 0h2M141 17.5h1m17 0h1M152 16.5h1m5 0h1M152 14.5h1M149 13.5h1m6 0h1M153 12.5h1M155 9.5h1m9 0h1M146 5.5h1M157 4.5h1" stroke="#1a1a1a" stroke-width="1" fill="none"/>
<path d="M51.7 7.0V246.0H335.0" fill="none" stroke="#000" stroke-width="2.2"/>
<path d="M46.7 246.0h4M51.7 247.0v5.5M49.0 228.0h1.7M74.6 247.0v1.7M49.0 217.5h1.7M88.0 247.0v1.7M49.0 210.0h1.7M97.5 247.0v1.7M49.0 204.2h1.7M104.8 247.0v1.7M49.0 199.5h1.7M110.8 247.0v1.7M49.0 195.5h1.7M115.9 247.0v1.7M49.0 192.0h1.7M120.3 247.0v1.7M49.0 189.0h1.7M124.2 247.0v1.7M46.7 186.2h4M127.7 247.0v5.5M49.0 168.3h1.7M150.6 247.0v1.7M49.0 157.7h1.7M164.0 247.0v1.7M49.0 150.3h1.7M173.5 247.0v1.7M49.0 144.5h1.7M180.8 247.0v1.7M49.0 139.8h1.7M186.8 247.0v1.7M49.0 135.8h1.7M191.9 247.0v1.7M49.0 132.3h1.7M196.3 247.0v1.7M49.0 129.2h1.7M200.2 247.0v1.7M46.7 126.5h4M203.7 247.0v5.5M49.0 108.5h1.7M226.6 247.0v1.7M49.0 98.0h1.7M240.0 247.0v1.7M49.0 90.5h1.7M249.5 247.0v1.7M49.0 84.7h1.7M256.8 247.0v1.7M49.0 80.0h1.7M262.8 247.0v1.7M49.0 76.0h1.7M267.9 247.0v1.7M49.0 72.5h1.7M272.3 247.0v1.7M49.0 69.5h1.7M276.2 247.0v1.7M46.7 66.8h4M279.7 247.0v5.5M49.0 48.8h1.7M302.6 247.0v1.7M49.0 38.2h1.7M316.0 247.0v1.7M49.0 30.8h1.7M325.5 247.0v1.7M49.0 25.0h1.7M332.8 247.0v1.7M49.0 20.3h1.7M49.0 16.3h1.7M49.0 12.8h1.7M49.0 9.7h1.7M46.7 7.5h4" stroke="#000" stroke-width="1.2" fill="none"/>
<path d="M187.6 8.0V246.0M51.7 98.3H335.0" stroke="#222" stroke-width="1.3" fill="none"/>
<text x="26.67" y="251.10" font-size="9.285714285714286" fill="#222" textLength="13.26" lengthAdjust="spacingAndGlyphs" font-family='"Liberation Serif", serif' stroke="#222" stroke-width="0.25">10</text>
<text x="40.09" y="244.60" font-size="6.685714285714286" fill="#222" textLength="3.87" lengthAdjust="spacingAndGlyphs" font-family='"Liberation Serif", serif' stroke="#222" stroke-width="0.25">0</text>
<text x="26.67" y="191.35" font-size="9.285714285714286" fill="#222" textLength="13.26" lengthAdjust="spacingAndGlyphs" font-family='"Liberation Serif", serif' stroke="#222" stroke-width="0.25">10</text>
<text x="39.62" y="184.85" font-size="6.685714285714286" fill="#222" textLength="4.58" lengthAdjust="spacingAndGlyphs" font-family='"Liberation Serif", serif' stroke="#222" stroke-width="0.25">1</text>
<text x="26.67" y="131.60" font-size="9.285714285714286" fill="#222" textLength="13.26" lengthAdjust="spacingAndGlyphs" font-family='"Liberation Serif", serif' stroke="#222" stroke-width="0.25">10</text>
<text x="40.03" y="125.10" font-size="6.685714285714286" fill="#222" textLength="4.06" lengthAdjust="spacingAndGlyphs" font-family='"Liberation Serif", serif' stroke="#222" stroke-width="0.25">2</text>
<text x="26.67" y="71.85" font-size="9.285714285714286" fill="#222" textLength="13.26" lengthAdjust="spacingAndGlyphs" font-family='"Liberation Serif", serif' stroke="#222" stroke-width="0.25">10</text>
<text x="40.05" y="65.35" font-size="6.685714285714286" fill="#222" textLength="3.92" lengthAdjust="spacingAndGlyphs" font-family='"Liberation Serif", serif' stroke="#222" stroke-width="0.25">3</text>
<text x="26.67" y="12.10" font-size="9.285714285714286" fill="#222" textLength="13.26" lengthAdjust="spacingAndGlyphs" font-family='"Liberation Serif", serif' stroke="#222" stroke-width="0.25">10</text>
<text x="40.26" y="5.60" font-size="6.685714285714286" fill="#222" textLength="3.49" lengthAdjust="spacingAndGlyphs" font-family='"Liberation Serif", serif' stroke="#222" stroke-width="0.25">4</text>
<text x="42.55" y="266.90" font-size="9.428571428571429" fill="#222" textLength="13.49" lengthAdjust="spacingAndGlyphs" font-family='"Liberation Serif", serif' stroke="#222" stroke-width="0.25">10</text>
<text x="56.39" y="260.30" font-size="6.788571428571428" fill="#222" textLength="3.93" lengthAdjust="spacingAndGlyphs" font-family='"Liberation Serif", serif' stroke="#222" stroke-width="0.25">0</text>
<text x="118.55" y="266.90" font-size="9.428571428571429" fill="#222" textLength="13.49" lengthAdjust="spacingAndGlyphs" font-family='"Liberation Serif", serif' stroke="#222" stroke-width="0.25">10</text>
<text x="131.91" y="260.30" font-size="6.788571428571428" fill="#222" textLength="4.65" lengthAdjust="spacingAndGlyphs" font-family='"Liberation Serif", serif' stroke="#222" stroke-width="0.25">1</text>
<text x="194.55" y="266.90" font-size="9.428571428571429" fill="#222" textLength="13.49" lengthAdjust="spacingAndGlyphs" font-family='"Liberation Serif", serif' stroke="#222" stroke-width="0.25">10</text>
<text x="208.33" y="260.30" font-size="6.788571428571428" fill="#222" textLength="4.13" lengthAdjust="spacingAndGlyphs" font-family='"Liberation Serif", serif' stroke="#222" stroke-width="0.25">2</text>
<text x="270.55" y="266.90" font-size="9.428571428571429" fill="#222" textLength="13.49" lengthAdjust="spacingAndGlyphs" font-family='"Liberation Serif", serif' stroke="#222" stroke-width="0.25">10</text>
<text x="284.34" y="260.30" font-size="6.788571428571428" fill="#222" textLength="3.98" lengthAdjust="spacingAndGlyphs" font-family='"Liberation Serif", serif' stroke="#222" stroke-width="0.25">3</text>
<text x="-0.69" y="0.00" font-size="11.449275362318842" fill="#1a1a1a" textLength="24.09" lengthAdjust="spacingAndGlyphs" transform="translate(14.50 137.40) rotate(-90)">PI-A</text>
<text x="182.91" y="278.80" font-size="11.699044585987261" fill="#1a1a1a" textLength="39.91" lengthAdjust="spacingAndGlyphs">FITC-A</text>
<path d="M389.5 13.0V239.3H658.5" fill="none" stroke="#000" stroke-width="2.2"/>
<path d="M384.5 239.3h4M389.5 240.3v5.5M386.8 222.3h1.7M409.7 240.3v1.7M386.8 212.3h1.7M421.6 240.3v1.7M386.8 205.3h1.7M430.0 240.3v1.7M386.8 199.8h1.7M436.5 240.3v1.7M386.8 195.3h1.7M441.8 240.3v1.7M386.8 191.6h1.7M446.3 240.3v1.7M386.8 188.3h1.7M450.2 240.3v1.7M386.8 185.4h1.7M453.6 240.3v1.7M384.5 182.8h4M456.7 240.3v5.5M386.8 165.8h1.7M476.9 240.3v1.7M386.8 155.8h1.7M488.8 240.3v1.7M386.8 148.8h1.7M497.2 240.3v1.7M386.8 143.3h1.7M503.7 240.3v1.7M386.8 138.8h1.7M509.0 240.3v1.7M386.8 135.1h1.7M513.5 240.3v1.7M386.8 131.8h1.7M517.4 240.3v1.7M386.8 128.9h1.7M520.8 240.3v1.7M384.5 126.3h4M523.9 240.3v5.5M386.8 109.3h1.7M544.1 240.3v1.7M386.8 99.3h1.7M556.0 240.3v1.7M386.8 92.3h1.7M564.4 240.3v1.7M386.8 86.8h1.7M570.9 240.3v1.7M386.8 82.3h1.7M576.2 240.3v1.7M386.8 78.6h1.7M580.7 240.3v1.7M386.8 75.3h1.7M584.6 240.3v1.7M386.8 72.4h1.7M588.0 240.3v1.7M384.5 69.8h4M591.1 240.3v5.5M386.8 52.8h1.7M611.3 240.3v1.7M386.8 42.8h1.7M623.2 240.3v1.7M386.8 35.8h1.7M631.6 240.3v1.7M386.8 30.3h1.7M638.1 240.3v1.7M386.8 25.8h1.7M643.4 240.3v1.7M386.8 22.1h1.7M647.9 240.3v1.7M386.8 18.8h1.7M651.8 240.3v1.7M386.8 15.9h1.7M655.2 240.3v1.7M384.5 13.5h4M658.3 240.3v5.5" stroke="#000" stroke-width="1.2" fill="none"/>
<path d="M548.2 14.0V239.3M389.5 145.1H657.4" stroke="#222" stroke-width="1.3" fill="none"/>
<text x="359.33" y="245.80" font-size="11.142857142857144" fill="#222" textLength="14.97" lengthAdjust="spacingAndGlyphs" font-family='"Liberation Serif", serif' stroke="#222" stroke-width="0.25">10</text>
<text x="374.33" y="238.00" font-size="8.022857142857143" fill="#222" textLength="4.64" lengthAdjust="spacingAndGlyphs" font-family='"Liberation Serif", serif' stroke="#222" stroke-width="0.25">0</text>
<text x="359.33" y="189.30" font-size="11.142857142857144" fill="#222" textLength="14.97" lengthAdjust="spacingAndGlyphs" font-family='"Liberation Serif", serif' stroke="#222" stroke-width="0.25">10</text>
<text x="373.77" y="181.50" font-size="8.022857142857143" fill="#222" textLength="5.49" lengthAdjust="spacingAndGlyphs" font-family='"Liberation Serif", serif' stroke="#222" stroke-width="0.25">1</text>
<text x="359.33" y="132.80" font-size="11.142857142857144" fill="#222" textLength="14.97" lengthAdjust="spacingAndGlyphs" font-family='"Liberation Serif", serif' stroke="#222" stroke-width="0.25">10</text>
<text x="374.26" y="125.00" font-size="8.022857142857143" fill="#222" textLength="4.87" lengthAdjust="spacingAndGlyphs" font-family='"Liberation Serif", serif' stroke="#222" stroke-width="0.25">2</text>
<text x="359.33" y="76.30" font-size="11.142857142857144" fill="#222" textLength="14.97" lengthAdjust="spacingAndGlyphs" font-family='"Liberation Serif", serif' stroke="#222" stroke-width="0.25">10</text>
<text x="374.28" y="68.50" font-size="8.022857142857143" fill="#222" textLength="4.70" lengthAdjust="spacingAndGlyphs" font-family='"Liberation Serif", serif' stroke="#222" stroke-width="0.25">3</text>
<text x="359.33" y="19.80" font-size="11.142857142857144" fill="#222" textLength="14.97" lengthAdjust="spacingAndGlyphs" font-family='"Liberation Serif", serif' stroke="#222" stroke-width="0.25">10</text>
<text x="374.53" y="12.00" font-size="8.022857142857143" fill="#222" textLength="4.19" lengthAdjust="spacingAndGlyphs" font-family='"Liberation Serif", serif' stroke="#222" stroke-width="0.25">4</text>
<text x="378.09" y="267.00" font-size="11.714285714285714" fill="#222" textLength="14.29" lengthAdjust="spacingAndGlyphs" font-family='"Liberation Serif", serif' stroke="#222" stroke-width="0.25">10</text>
<text x="392.61" y="258.80" font-size="8.434285714285714" fill="#222" textLength="4.88" lengthAdjust="spacingAndGlyphs" font-family='"Liberation Serif", serif' stroke="#222" stroke-width="0.25">0</text>
<text x="445.29" y="267.00" font-size="11.714285714285714" fill="#222" textLength="14.29" lengthAdjust="spacingAndGlyphs" font-family='"Liberation Serif", serif' stroke="#222" stroke-width="0.25">10</text>
<text x="459.22" y="258.80" font-size="8.434285714285714" fill="#222" textLength="5.77" lengthAdjust="spacingAndGlyphs" font-family='"Liberation Serif", serif' stroke="#222" stroke-width="0.25">1</text>
<text x="512.49" y="267.00" font-size="11.714285714285714" fill="#222" textLength="14.29" lengthAdjust="spacingAndGlyphs" font-family='"Liberation Serif", serif' stroke="#222" stroke-width="0.25">10</text>
<text x="526.94" y="258.80" font-size="8.434285714285714" fill="#222" textLength="5.13" lengthAdjust="spacingAndGlyphs" font-family='"Liberation Serif", serif' stroke="#222" stroke-width="0.25">2</text>
<text x="579.69" y="267.00" font-size="11.714285714285714" fill="#222" textLength="14.29" lengthAdjust="spacingAndGlyphs" font-family='"Liberation Serif", serif' stroke="#222" stroke-width="0.25">10</text>
<text x="594.16" y="258.80" font-size="8.434285714285714" fill="#222" textLength="4.94" lengthAdjust="spacingAndGlyphs" font-family='"Liberation Serif", serif' stroke="#222" stroke-width="0.25">3</text>
<text x="646.89" y="267.00" font-size="11.714285714285714" fill="#222" textLength="14.29" lengthAdjust="spacingAndGlyphs" font-family='"Liberation Serif", serif' stroke="#222" stroke-width="0.25">10</text>
<text x="661.62" y="258.80" font-size="8.434285714285714" fill="#222" textLength="4.41" lengthAdjust="spacingAndGlyphs" font-family='"Liberation Serif", serif' stroke="#222" stroke-width="0.25">4</text>
<text x="-0.97" y="0.00" font-size="13.333333333333352" fill="#1a1a1a" textLength="30.97" lengthAdjust="spacingAndGlyphs" transform="translate(345.20 140.70) rotate(-90)">PI-A</text>
<text x="498.64" y="283.20" font-size="13.624203821656051" fill="#1a1a1a" textLength="46.58" lengthAdjust="spacingAndGlyphs">FITC-A</text>
<path d="M47.5 300.3V530.5H327.6" fill="none" stroke="#000" stroke-width="2.2"/>
<path d="M42.5 530.5h4M47.5 531.5v5.5M44.8 513.2h1.7M68.6 531.5v1.7M44.8 503.0h1.7M80.9 531.5v1.7M44.8 495.9h1.7M89.6 531.5v1.7M44.8 490.3h1.7M96.4 531.5v1.7M44.8 485.7h1.7M102.0 531.5v1.7M44.8 481.9h1.7M106.7 531.5v1.7M44.8 478.5h1.7M110.7 531.5v1.7M44.8 475.6h1.7M114.3 531.5v1.7M42.5 472.9h4M117.5 531.5v5.5M44.8 455.6h1.7M138.6 531.5v1.7M44.8 445.5h1.7M150.9 531.5v1.7M44.8 438.3h1.7M159.6 531.5v1.7M44.8 432.7h1.7M166.4 531.5v1.7M44.8 428.2h1.7M172.0 531.5v1.7M44.8 424.3h1.7M176.7 531.5v1.7M44.8 421.0h1.7M180.7 531.5v1.7M44.8 418.0h1.7M184.3 531.5v1.7M42.5 415.4h4M187.5 531.5v5.5M44.8 398.1h1.7M208.6 531.5v1.7M44.8 387.9h1.7M220.9 531.5v1.7M44.8 380.8h1.7M229.6 531.5v1.7M44.8 375.2h1.7M236.4 531.5v1.7M44.8 370.6h1.7M242.0 531.5v1.7M44.8 366.8h1.7M246.7 531.5v1.7M44.8 363.4h1.7M250.7 531.5v1.7M44.8 360.5h1.7M254.3 531.5v1.7M42.5 357.9h4M257.5 531.5v5.5M44.8 340.5h1.7M278.6 531.5v1.7M44.8 330.4h1.7M290.9 531.5v1.7M44.8 323.2h1.7M299.6 531.5v1.7M44.8 317.6h1.7M306.4 531.5v1.7M44.8 313.1h1.7M312.0 531.5v1.7M44.8 309.2h1.7M316.7 531.5v1.7M44.8 305.9h1.7M320.7 531.5v1.7M44.8 302.9h1.7M324.3 531.5v1.7M42.5 300.8h4M327.5 531.5v5.5" stroke="#000" stroke-width="1.2" fill="none"/>
<path d="M214.3 301.3V530.5M47.5 388.3H328.0" stroke="#222" stroke-width="1.3" fill="none"/>
<text x="24.00" y="536.00" font-size="8.857142857142858" fill="#222" textLength="10.63" lengthAdjust="spacingAndGlyphs" font-family='"Liberation Serif", serif' stroke="#222" stroke-width="0.25">10</text>
<text x="34.90" y="529.80" font-size="6.377142857142857" fill="#222" textLength="3.69" lengthAdjust="spacingAndGlyphs" font-family='"Liberation Serif", serif' stroke="#222" stroke-width="0.25">0</text>
<text x="24.00" y="478.45" font-size="8.857142857142858" fill="#222" textLength="10.63" lengthAdjust="spacingAndGlyphs" font-family='"Liberation Serif", serif' stroke="#222" stroke-width="0.25">10</text>
<text x="34.46" y="472.25" font-size="6.377142857142857" fill="#222" textLength="4.37" lengthAdjust="spacingAndGlyphs" font-family='"Liberation Serif", serif' stroke="#222" stroke-width="0.25">1</text>
<text x="24.00" y="420.90" font-size="8.857142857142858" fill="#222" textLength="10.63" lengthAdjust="spacingAndGlyphs" font-family='"Liberation Serif", serif' stroke="#222" stroke-width="0.25">10</text>
<text x="34.85" y="414.70" font-size="6.377142857142857" fill="#222" textLength="3.88" lengthAdjust="spacingAndGlyphs" font-family='"Liberation Serif", serif' stroke="#222" stroke-width="0.25">2</text>
<text x="24.00" y="363.35" font-size="8.857142857142858" fill="#222" textLength="10.63" lengthAdjust="spacingAndGlyphs" font-family='"Liberation Serif", serif' stroke="#222" stroke-width="0.25">10</text>
<text x="34.86" y="357.15" font-size="6.377142857142857" fill="#222" textLength="3.73" lengthAdjust="spacingAndGlyphs" font-family='"Liberation Serif", serif' stroke="#222" stroke-width="0.25">3</text>
<text x="24.00" y="305.80" font-size="8.857142857142858" fill="#222" textLength="10.63" lengthAdjust="spacingAndGlyphs" font-family='"Liberation Serif", serif' stroke="#222" stroke-width="0.25">10</text>
<text x="35.07" y="299.60" font-size="6.377142857142857" fill="#222" textLength="3.33" lengthAdjust="spacingAndGlyphs" font-family='"Liberation Serif", serif' stroke="#222" stroke-width="0.25">4</text>
<text x="38.44" y="550.10" font-size="8.857142857142856" fill="#222" textLength="11.31" lengthAdjust="spacingAndGlyphs" font-family='"Liberation Serif", serif' stroke="#222" stroke-width="0.25">10</text>
<text x="50.20" y="543.90" font-size="6.377142857142856" fill="#222" textLength="3.69" lengthAdjust="spacingAndGlyphs" font-family='"Liberation Serif", serif' stroke="#222" stroke-width="0.25">0</text>
<text x="108.44" y="550.10" font-size="8.857142857142856" fill="#222" textLength="11.31" lengthAdjust="spacingAndGlyphs" font-family='"Liberation Serif", serif' stroke="#222" stroke-width="0.25">10</text>
<text x="119.76" y="543.90" font-size="6.377142857142856" fill="#222" textLength="4.37" lengthAdjust="spacingAndGlyphs" font-family='"Liberation Serif", serif' stroke="#222" stroke-width="0.25">1</text>
<text x="178.44" y="550.10" font-size="8.857142857142856" fill="#222" textLength="11.31" lengthAdjust="spacingAndGlyphs" font-family='"Liberation Serif", serif' stroke="#222" stroke-width="0.25">10</text>
<text x="190.15" y="543.90" font-size="6.377142857142856" fill="#222" textLength="3.87" lengthAdjust="spacingAndGlyphs" font-family='"Liberation Serif", serif' stroke="#222" stroke-width="0.25">2</text>
<text x="248.44" y="550.10" font-size="8.857142857142856" fill="#222" textLength="11.31" lengthAdjust="spacingAndGlyphs" font-family='"Liberation Serif", serif' stroke="#222" stroke-width="0.25">10</text>
<text x="260.16" y="543.90" font-size="6.377142857142856" fill="#222" textLength="3.73" lengthAdjust="spacingAndGlyphs" font-family='"Liberation Serif", serif' stroke="#222" stroke-width="0.25">3</text>
<text x="318.44" y="550.10" font-size="8.857142857142856" fill="#222" textLength="11.31" lengthAdjust="spacingAndGlyphs" font-family='"Liberation Serif", serif' stroke="#222" stroke-width="0.25">10</text>
<text x="330.37" y="543.90" font-size="6.377142857142856" fill="#222" textLength="3.33" lengthAdjust="spacingAndGlyphs" font-family='"Liberation Serif", serif' stroke="#222" stroke-width="0.25">4</text>
<text x="-0.63" y="0.00" font-size="10.869565217391308" fill="#1a1a1a" textLength="22.53" lengthAdjust="spacingAndGlyphs" transform="translate(12.10 425.90) rotate(-90)">PI-A</text>
<text x="168.06" y="561.80" font-size="11.136305732484082" fill="#1a1a1a" textLength="37.96" lengthAdjust="spacingAndGlyphs">FITC-A</text>
<path d="M384.6 296.4V523.9H657.4" fill="none" stroke="#000" stroke-width="2.2"/>
<path d="M379.6 523.9h4M384.6 524.9v5.5M381.9 506.8h1.7M405.1 524.9v1.7M381.9 496.8h1.7M417.1 524.9v1.7M381.9 489.7h1.7M425.7 524.9v1.7M381.9 484.2h1.7M432.3 524.9v1.7M381.9 479.7h1.7M437.7 524.9v1.7M381.9 475.9h1.7M442.2 524.9v1.7M381.9 472.6h1.7M446.2 524.9v1.7M381.9 469.7h1.7M449.7 524.9v1.7M379.6 467.1h4M452.8 524.9v5.5M381.9 450.0h1.7M473.3 524.9v1.7M381.9 440.0h1.7M485.3 524.9v1.7M381.9 432.9h1.7M493.9 524.9v1.7M381.9 427.4h1.7M500.5 524.9v1.7M381.9 422.9h1.7M505.9 524.9v1.7M381.9 419.1h1.7M510.4 524.9v1.7M381.9 415.8h1.7M514.4 524.9v1.7M381.9 412.9h1.7M517.9 524.9v1.7M379.6 410.3h4M521.0 524.9v5.5M381.9 393.2h1.7M541.5 524.9v1.7M381.9 383.2h1.7M553.5 524.9v1.7M381.9 376.1h1.7M562.1 524.9v1.7M381.9 370.6h1.7M568.7 524.9v1.7M381.9 366.1h1.7M574.1 524.9v1.7M381.9 362.3h1.7M578.6 524.9v1.7M381.9 359.0h1.7M582.6 524.9v1.7M381.9 356.1h1.7M586.1 524.9v1.7M379.6 353.5h4M589.2 524.9v5.5M381.9 336.4h1.7M609.7 524.9v1.7M381.9 326.4h1.7M621.7 524.9v1.7M381.9 319.3h1.7M630.3 524.9v1.7M381.9 313.8h1.7M636.9 524.9v1.7M381.9 309.3h1.7M642.3 524.9v1.7M381.9 305.5h1.7M646.8 524.9v1.7M381.9 302.2h1.7M650.8 524.9v1.7M381.9 299.3h1.7M654.3 524.9v1.7M379.6 296.9h4M657.4 524.9v5.5" stroke="#000" stroke-width="1.2" fill="none"/>
<path d="M512.0 297.4V523.9M384.6 427.0H658.7" stroke="#222" stroke-width="1.3" fill="none"/>
<text x="359.81" y="529.40" font-size="9.0" fill="#222" textLength="12.80" lengthAdjust="spacingAndGlyphs" font-family='"Liberation Serif", serif' stroke="#222" stroke-width="0.25">10</text>
<text x="372.80" y="523.10" font-size="6.4799999999999995" fill="#222" textLength="3.75" lengthAdjust="spacingAndGlyphs" font-family='"Liberation Serif", serif' stroke="#222" stroke-width="0.25">0</text>
<text x="359.81" y="472.60" font-size="9.0" fill="#222" textLength="12.80" lengthAdjust="spacingAndGlyphs" font-family='"Liberation Serif", serif' stroke="#222" stroke-width="0.25">10</text>
<text x="372.35" y="466.30" font-size="6.4799999999999995" fill="#222" textLength="4.44" lengthAdjust="spacingAndGlyphs" font-family='"Liberation Serif", serif' stroke="#222" stroke-width="0.25">1</text>
<text x="359.81" y="415.80" font-size="9.0" fill="#222" textLength="12.80" lengthAdjust="spacingAndGlyphs" font-family='"Liberation Serif", serif' stroke="#222" stroke-width="0.25">10</text>
<text x="372.75" y="409.50" font-size="6.4799999999999995" fill="#222" textLength="3.94" lengthAdjust="spacingAndGlyphs" font-family='"Liberation Serif", serif' stroke="#222" stroke-width="0.25">2</text>
<text x="359.81" y="359.00" font-size="9.0" fill="#222" textLength="12.80" lengthAdjust="spacingAndGlyphs" font-family='"Liberation Serif", serif' stroke="#222" stroke-width="0.25">10</text>
<text x="372.76" y="352.70" font-size="6.4799999999999995" fill="#222" textLength="3.80" lengthAdjust="spacingAndGlyphs" font-family='"Liberation Serif", serif' stroke="#222" stroke-width="0.25">3</text>
<text x="359.81" y="302.20" font-size="9.0" fill="#222" textLength="12.80" lengthAdjust="spacingAndGlyphs" font-family='"Liberation Serif", serif' stroke="#222" stroke-width="0.25">10</text>
<text x="372.96" y="295.90" font-size="6.4799999999999995" fill="#222" textLength="3.39" lengthAdjust="spacingAndGlyphs" font-family='"Liberation Serif", serif' stroke="#222" stroke-width="0.25">4</text>
<text x="375.81" y="546.50" font-size="9.71428571428571" fill="#222" textLength="11.66" lengthAdjust="spacingAndGlyphs" font-family='"Liberation Serif", serif' stroke="#222" stroke-width="0.25">10</text>
<text x="387.88" y="539.70" font-size="6.994285714285711" fill="#222" textLength="4.05" lengthAdjust="spacingAndGlyphs" font-family='"Liberation Serif", serif' stroke="#222" stroke-width="0.25">0</text>
<text x="444.01" y="546.50" font-size="9.71428571428571" fill="#222" textLength="11.66" lengthAdjust="spacingAndGlyphs" font-family='"Liberation Serif", serif' stroke="#222" stroke-width="0.25">10</text>
<text x="455.59" y="539.70" font-size="6.994285714285711" fill="#222" textLength="4.79" lengthAdjust="spacingAndGlyphs" font-family='"Liberation Serif", serif' stroke="#222" stroke-width="0.25">1</text>
<text x="512.21" y="546.50" font-size="9.71428571428571" fill="#222" textLength="11.66" lengthAdjust="spacingAndGlyphs" font-family='"Liberation Serif", serif' stroke="#222" stroke-width="0.25">10</text>
<text x="524.22" y="539.70" font-size="6.994285714285711" fill="#222" textLength="4.25" lengthAdjust="spacingAndGlyphs" font-family='"Liberation Serif", serif' stroke="#222" stroke-width="0.25">2</text>
<text x="580.41" y="546.50" font-size="9.71428571428571" fill="#222" textLength="11.66" lengthAdjust="spacingAndGlyphs" font-family='"Liberation Serif", serif' stroke="#222" stroke-width="0.25">10</text>
<text x="592.43" y="539.70" font-size="6.994285714285711" fill="#222" textLength="4.10" lengthAdjust="spacingAndGlyphs" font-family='"Liberation Serif", serif' stroke="#222" stroke-width="0.25">3</text>
<text x="648.61" y="546.50" font-size="9.71428571428571" fill="#222" textLength="11.66" lengthAdjust="spacingAndGlyphs" font-family='"Liberation Serif", serif' stroke="#222" stroke-width="0.25">10</text>
<text x="660.85" y="539.70" font-size="6.994285714285711" fill="#222" textLength="3.66" lengthAdjust="spacingAndGlyphs" font-family='"Liberation Serif", serif' stroke="#222" stroke-width="0.25">4</text>
<text x="-0.71" y="0.00" font-size="12.173913043478262" fill="#1a1a1a" textLength="24.51" lengthAdjust="spacingAndGlyphs" transform="translate(348.50 421.90) rotate(-90)">PI-A</text>
<text x="501.67" y="559.00" font-size="10.958598726114634" fill="#1a1a1a" textLength="37.35" lengthAdjust="spacingAndGlyphs">FITC-A</text>
<text x="59.80" y="26.10" font-size="18" font-weight="bold" fill="#0d0d0d" textLength="16.68" lengthAdjust="spacingAndGlyphs">a.</text>
<text x="82.05" y="26.10" font-size="18" fill="#0d0d0d" textLength="37.02" lengthAdjust="spacingAndGlyphs">UNT</text>
<text x="400.03" y="39.70" font-size="17" font-weight="bold" fill="#0d0d0d" textLength="17.30" lengthAdjust="spacingAndGlyphs">b.</text>
<text x="422.42" y="39.70" font-size="17" fill="#0d0d0d" textLength="40.58" lengthAdjust="spacingAndGlyphs">D3G</text>
<text x="56.62" y="322.30" font-size="18" font-weight="bold" fill="#0d0d0d" textLength="16.33" lengthAdjust="spacingAndGlyphs">c.</text>
<text x="79.15" y="322.30" font-size="18" fill="#0d0d0d" textLength="26.16" lengthAdjust="spacingAndGlyphs">DC</text>
<text x="395.83" y="327.40" font-size="17.5" font-weight="bold" fill="#0d0d0d" textLength="17.09" lengthAdjust="spacingAndGlyphs">d.</text>
<text x="419.22" y="327.40" font-size="17.5" fill="#0d0d0d" textLength="25.38" lengthAdjust="spacingAndGlyphs">GA</text>
<text x="288.09" y="28.10" font-size="14" fill="#2e2e2e" textLength="29.52" lengthAdjust="spacingAndGlyphs">Late</text>
<text x="250.13" y="49.00" font-size="14" fill="#2e2e2e" textLength="67.56" lengthAdjust="spacingAndGlyphs">apoptotic</text>
<text x="290.80" y="215.20" font-size="14" fill="#2e2e2e" textLength="34.18" lengthAdjust="spacingAndGlyphs">Early</text>
<text x="258.43" y="236.00" font-size="14" fill="#2e2e2e" textLength="67.66" lengthAdjust="spacingAndGlyphs">apoptotic</text>
<text x="633.60" y="22.50" font-size="14" fill="#2e2e2e" textLength="29.19" lengthAdjust="spacingAndGlyphs">Late</text>
<text x="595.44" y="43.70" font-size="14" fill="#2e2e2e" textLength="67.26" lengthAdjust="spacingAndGlyphs">apoptotic</text>
<text x="627.39" y="194.00" font-size="14" fill="#2e2e2e" textLength="34.49" lengthAdjust="spacingAndGlyphs">Early</text>
<text x="594.93" y="215.60" font-size="14" fill="#2e2e2e" textLength="68.37" lengthAdjust="spacingAndGlyphs">apoptotic</text>
<text x="289.89" y="305.80" font-size="14" fill="#2e2e2e" textLength="29.52" lengthAdjust="spacingAndGlyphs">Late</text>
<text x="251.73" y="326.00" font-size="14" fill="#2e2e2e" textLength="67.66" lengthAdjust="spacingAndGlyphs">apoptotic</text>
<text x="282.39" y="501.20" font-size="14" fill="#2e2e2e" textLength="34.49" lengthAdjust="spacingAndGlyphs">Early</text>
<text x="250.13" y="521.00" font-size="14" fill="#2e2e2e" textLength="67.56" lengthAdjust="spacingAndGlyphs">apoptotic</text>
<text x="626.79" y="317.90" font-size="14" fill="#2e2e2e" textLength="29.52" lengthAdjust="spacingAndGlyphs">Late</text>
<text x="588.73" y="338.30" font-size="14" fill="#2e2e2e" textLength="67.97" lengthAdjust="spacingAndGlyphs">apoptotic</text>
<text x="621.60" y="493.60" font-size="14" fill="#2e2e2e" textLength="34.07" lengthAdjust="spacingAndGlyphs">Early</text>
<text x="589.14" y="513.80" font-size="14" fill="#2e2e2e" textLength="67.36" lengthAdjust="spacingAndGlyphs">apoptotic</text>
<text x="212.71" y="122.80" font-size="17.5" font-weight="bold" fill="#0a0a0a" textLength="97.11" lengthAdjust="spacingAndGlyphs">4.6 ± 0.3 %</text>
<text x="557.12" y="165.60" font-size="17.5" font-weight="bold" fill="#0a0a0a" textLength="109.03" lengthAdjust="spacingAndGlyphs">25.8 ± 4.1 %</text>
<text x="218.92" y="411.50" font-size="17.5" font-weight="bold" fill="#0a0a0a" textLength="108.72" lengthAdjust="spacingAndGlyphs">27.9 ± 8.5 %</text>
<text x="555.11" y="451.00" font-size="17.5" font-weight="bold" fill="#0a0a0a" textLength="108.23" lengthAdjust="spacingAndGlyphs">41.5 ± 1.7 %</text>
<path d="M77.0 611.0V868.3H657" stroke="#7a7a7a" stroke-width="1.6" fill="none"/>
<text x="52.94" y="874.50" font-size="17.4" fill="#111" textLength="9.69" lengthAdjust="spacingAndGlyphs">0</text>
<text x="52.93" y="848.77" font-size="17.4" fill="#111" textLength="9.79" lengthAdjust="spacingAndGlyphs">5</text>
<text x="42.73" y="823.04" font-size="17.4" fill="#111" textLength="19.94" lengthAdjust="spacingAndGlyphs">10</text>
<text x="42.72" y="797.31" font-size="17.4" fill="#111" textLength="20.04" lengthAdjust="spacingAndGlyphs">15</text>
<text x="43.20" y="771.58" font-size="17.4" fill="#111" textLength="19.45" lengthAdjust="spacingAndGlyphs">20</text>
<text x="43.19" y="745.85" font-size="17.4" fill="#111" textLength="19.55" lengthAdjust="spacingAndGlyphs">25</text>
<text x="43.38" y="720.12" font-size="17.4" fill="#111" textLength="19.27" lengthAdjust="spacingAndGlyphs">30</text>
<text x="43.38" y="694.39" font-size="17.4" fill="#111" textLength="19.36" lengthAdjust="spacingAndGlyphs">35</text>
<text x="43.73" y="668.66" font-size="17.4" fill="#111" textLength="18.90" lengthAdjust="spacingAndGlyphs">40</text>
<text x="43.73" y="642.93" font-size="17.4" fill="#111" textLength="18.99" lengthAdjust="spacingAndGlyphs">45</text>
<text x="43.38" y="617.20" font-size="17.4" fill="#111" textLength="19.27" lengthAdjust="spacingAndGlyphs">50</text>
<rect x="105.8" y="845.5" width="25.3" height="22.8" fill="#7f7f7f" stroke="#262626" stroke-width="1.2"/>
<path d="M118.4 843.1V846.7M115.4 843.1h6M115.4 846.7h6" stroke="#555" stroke-width="1.1"/>
<text x="118.4" y="837.3" font-size="17.2" text-anchor="middle" font-weight="normal" fill="#111" >c</text>
<text x="118.4" y="894.8" font-size="17.2" text-anchor="middle" font-weight="normal" fill="#111" >UNT</text>
<rect x="188.9" y="845.5" width="25.3" height="22.8" fill="#7f7f7f" stroke="#262626" stroke-width="1.2"/>
<path d="M201.5 843.9V845.9M198.5 843.9h6M198.5 845.9h6" stroke="#555" stroke-width="1.1"/>
<text x="201.5" y="837.0" font-size="17.2" text-anchor="middle" font-weight="normal" fill="#111" >c</text>
<text x="201.5" y="894.8" font-size="17.2" text-anchor="middle" font-weight="normal" fill="#111" >UNTD</text>
<rect x="271.9" y="798.1" width="25.3" height="70.2" fill="#7f7f7f" stroke="#262626" stroke-width="1.2"/>
<path d="M284.5 792.1V802.9M281.5 792.1h6M281.5 802.9h6" stroke="#555" stroke-width="1.1"/>
<text x="284.5" y="785.3" font-size="17.2" text-anchor="middle" font-weight="normal" fill="#111" >bc</text>
<text x="284.5" y="894.8" font-size="17.2" text-anchor="middle" font-weight="normal" fill="#111" >OX</text>
<rect x="354.6" y="784.5" width="25.3" height="83.8" fill="#7f7f7f" stroke="#262626" stroke-width="1.2"/>
<path d="M367.2 781.1V786.7M364.2 781.1h6M364.2 786.7h6" stroke="#555" stroke-width="1.1"/>
<text x="367.2" y="771.7" font-size="17.2" text-anchor="middle" font-weight="normal" fill="#111" >bc</text>
<text x="367.2" y="894.8" font-size="17.2" text-anchor="middle" font-weight="normal" fill="#111" >RGC</text>
<rect x="438.0" y="736.1" width="25.3" height="132.2" fill="#7f7f7f" stroke="#262626" stroke-width="1.2"/>
<path d="M450.6 714.2V756.9M447.6 714.2h6M447.6 756.9h6" stroke="#555" stroke-width="1.1"/>
<text x="450.6" y="712.3" font-size="17.2" text-anchor="middle" font-weight="normal" fill="#111" >b</text>
<text x="450.6" y="894.8" font-size="17.2" text-anchor="middle" font-weight="normal" fill="#111" >D3G</text>
<rect x="519.9" y="725.3" width="25.3" height="143.0" fill="#7f7f7f" stroke="#262626" stroke-width="1.2"/>
<path d="M532.5 681.0V768.5M529.5 681.0h6M529.5 768.5h6" stroke="#555" stroke-width="1.1"/>
<text x="532.5" y="679.8" font-size="17.2" text-anchor="middle" font-weight="normal" fill="#111" >ab</text>
<text x="532.5" y="894.8" font-size="17.2" text-anchor="middle" font-weight="normal" fill="#111" >DC</text>
<rect x="602.6" y="655.3" width="25.3" height="213.0" fill="#7f7f7f" stroke="#262626" stroke-width="1.2"/>
<path d="M615.2 646.0V663.5M612.2 646.0h6M612.2 663.5h6" stroke="#555" stroke-width="1.1"/>
<text x="615.2" y="642.5" font-size="17.2" text-anchor="middle" font-weight="normal" fill="#111" >a</text>
<text x="615.2" y="894.8" font-size="17.2" text-anchor="middle" font-weight="normal" fill="#111" >GA</text>
<text x="-0.31" y="0.00" font-size="17.4" fill="#111" textLength="131.21" lengthAdjust="spacingAndGlyphs" transform="translate(35.2 805.3) rotate(-90)">% apoptotic cells</text>
<text x="21.43" y="586.90" font-size="21" font-weight="bold" fill="#111" textLength="12.05" lengthAdjust="spacingAndGlyphs">e</text>
</svg>
</body></html>
